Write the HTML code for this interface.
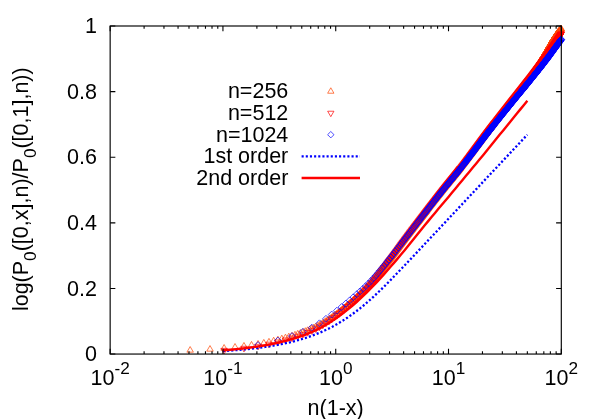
<!DOCTYPE html>
<html><head><meta charset="utf-8"><title>plot</title>
<style>html,body{margin:0;padding:0;background:#fff;}svg{display:block;will-change:transform;}text{font-family:"Liberation Sans",sans-serif;fill:#000;}</style></head><body>
<svg width="598" height="419" viewBox="0 0 598 419">
<rect width="598" height="419" fill="#fff"/>
<path d="M190.15,346.55 l3.25,5.62 h-6.50 z M210.01,345.55 l3.25,5.62 h-6.50 z M224.10,344.53 l3.25,5.62 h-6.50 z M235.03,343.52 l3.25,5.62 h-6.50 z M243.96,342.48 l3.25,5.62 h-6.50 z M251.51,341.46 l3.25,5.62 h-6.50 z M258.05,340.48 l3.25,5.62 h-6.50 z M263.82,339.45 l3.25,5.62 h-6.50 z M268.98,338.37 l3.25,5.62 h-6.50 z M273.65,337.28 l3.25,5.62 h-6.50 z M277.91,336.20 l3.25,5.62 h-6.50 z M281.83,335.17 l3.25,5.62 h-6.50 z M285.46,334.17 l3.25,5.62 h-6.50 z M288.84,333.20 l3.25,5.62 h-6.50 z M292.00,332.25 l3.25,5.62 h-6.50 z M294.97,331.32 l3.25,5.62 h-6.50 z M297.77,330.40 l3.25,5.62 h-6.50 z M300.42,329.49 l3.25,5.62 h-6.50 z M302.93,328.59 l3.25,5.62 h-6.50 z M305.32,327.69 l3.25,5.62 h-6.50 z M307.60,326.80 l3.25,5.62 h-6.50 z M309.78,325.92 l3.25,5.62 h-6.50 z M311.86,325.04 l3.25,5.62 h-6.50 z M313.86,324.17 l3.25,5.62 h-6.50 z M315.79,323.27 l3.25,5.62 h-6.50 z M317.63,322.36 l3.25,5.62 h-6.50 z M319.42,321.43 l3.25,5.62 h-6.50 z M321.13,320.50 l3.25,5.62 h-6.50 z M322.80,319.55 l3.25,5.62 h-6.50 z M324.40,318.60 l3.25,5.62 h-6.50 z M325.96,317.65 l3.25,5.62 h-6.50 z M327.46,316.70 l3.25,5.62 h-6.50 z M328.93,315.75 l3.25,5.62 h-6.50 z M330.35,314.80 l3.25,5.62 h-6.50 z M331.73,313.86 l3.25,5.62 h-6.50 z M333.07,312.92 l3.25,5.62 h-6.50 z M334.37,311.98 l3.25,5.62 h-6.50 z M335.65,311.05 l3.25,5.62 h-6.50 z M336.89,310.14 l3.25,5.62 h-6.50 z M338.10,309.24 l3.25,5.62 h-6.50 z M339.28,308.34 l3.25,5.62 h-6.50 z M340.43,307.46 l3.25,5.62 h-6.50 z M341.56,306.58 l3.25,5.62 h-6.50 z M342.66,305.71 l3.25,5.62 h-6.50 z M343.73,304.84 l3.25,5.62 h-6.50 z M344.79,303.99 l3.25,5.62 h-6.50 z M345.82,303.14 l3.25,5.62 h-6.50 z M346.83,302.30 l3.25,5.62 h-6.50 z M347.82,301.47 l3.25,5.62 h-6.50 z M348.79,300.65 l3.25,5.62 h-6.50 z M349.74,299.85 l3.25,5.62 h-6.50 z M350.67,299.05 l3.25,5.62 h-6.50 z M351.59,298.26 l3.25,5.62 h-6.50 z M352.49,297.48 l3.25,5.62 h-6.50 z M353.37,296.71 l3.25,5.62 h-6.50 z M354.24,295.95 l3.25,5.62 h-6.50 z M355.09,295.20 l3.25,5.62 h-6.50 z M355.92,294.45 l3.25,5.62 h-6.50 z M356.75,293.71 l3.25,5.62 h-6.50 z M357.56,292.97 l3.25,5.62 h-6.50 z M358.35,292.23 l3.25,5.62 h-6.50 z M359.14,291.49 l3.25,5.62 h-6.50 z M359.91,290.75 l3.25,5.62 h-6.50 z M360.67,290.01 l3.25,5.62 h-6.50 z M361.42,289.28 l3.25,5.62 h-6.50 z M362.15,288.54 l3.25,5.62 h-6.50 z M362.88,287.81 l3.25,5.62 h-6.50 z M363.59,287.08 l3.25,5.62 h-6.50 z M364.30,286.36 l3.25,5.62 h-6.50 z M364.99,285.63 l3.25,5.62 h-6.50 z M365.68,284.92 l3.25,5.62 h-6.50 z M366.35,284.20 l3.25,5.62 h-6.50 z M367.02,283.49 l3.25,5.62 h-6.50 z M367.68,282.78 l3.25,5.62 h-6.50 z M368.33,282.08 l3.25,5.62 h-6.50 z M368.97,281.38 l3.25,5.62 h-6.50 z M369.60,280.69 l3.25,5.62 h-6.50 z M370.22,280.00 l3.25,5.62 h-6.50 z M370.84,279.30 l3.25,5.62 h-6.50 z M371.45,278.61 l3.25,5.62 h-6.50 z M372.05,277.92 l3.25,5.62 h-6.50 z M372.64,277.22 l3.25,5.62 h-6.50 z M373.23,276.53 l3.25,5.62 h-6.50 z M373.81,275.84 l3.25,5.62 h-6.50 z M374.38,275.15 l3.25,5.62 h-6.50 z M374.95,274.47 l3.25,5.62 h-6.50 z M375.51,273.78 l3.25,5.62 h-6.50 z M376.06,273.10 l3.25,5.62 h-6.50 z M376.61,272.43 l3.25,5.62 h-6.50 z M377.15,271.75 l3.25,5.62 h-6.50 z M377.69,271.08 l3.25,5.62 h-6.50 z M378.21,270.41 l3.25,5.62 h-6.50 z M378.74,269.75 l3.25,5.62 h-6.50 z M379.26,269.09 l3.25,5.62 h-6.50 z M379.77,268.44 l3.25,5.62 h-6.50 z M380.28,267.79 l3.25,5.62 h-6.50 z M380.78,267.15 l3.25,5.62 h-6.50 z M381.28,266.51 l3.25,5.62 h-6.50 z M381.77,265.87 l3.25,5.62 h-6.50 z M382.26,265.24 l3.25,5.62 h-6.50 z M382.74,264.62 l3.25,5.62 h-6.50 z M383.22,264.00 l3.25,5.62 h-6.50 z M383.69,263.39 l3.25,5.62 h-6.50 z M384.16,262.78 l3.25,5.62 h-6.50 z M384.62,262.18 l3.25,5.62 h-6.50 z M385.08,261.59 l3.25,5.62 h-6.50 z M385.54,261.00 l3.25,5.62 h-6.50 z M385.99,260.41 l3.25,5.62 h-6.50 z M386.44,259.84 l3.25,5.62 h-6.50 z M386.88,259.26 l3.25,5.62 h-6.50 z M387.32,258.70 l3.25,5.62 h-6.50 z M387.76,258.14 l3.25,5.62 h-6.50 z M388.19,257.58 l3.25,5.62 h-6.50 z M388.62,257.03 l3.25,5.62 h-6.50 z M389.04,256.48 l3.25,5.62 h-6.50 z M389.46,255.94 l3.25,5.62 h-6.50 z M389.88,255.40 l3.25,5.62 h-6.50 z M390.29,254.86 l3.25,5.62 h-6.50 z M390.70,254.32 l3.25,5.62 h-6.50 z M391.11,253.79 l3.25,5.62 h-6.50 z M391.51,253.25 l3.25,5.62 h-6.50 z M391.91,252.72 l3.25,5.62 h-6.50 z M392.31,252.20 l3.25,5.62 h-6.50 z M392.70,251.67 l3.25,5.62 h-6.50 z M393.09,251.15 l3.25,5.62 h-6.50 z M393.48,250.63 l3.25,5.62 h-6.50 z M393.86,250.12 l3.25,5.62 h-6.50 z M394.24,249.60 l3.25,5.62 h-6.50 z M394.62,249.09 l3.25,5.62 h-6.50 z M395.00,248.59 l3.25,5.62 h-6.50 z M395.37,248.08 l3.25,5.62 h-6.50 z M395.74,247.58 l3.25,5.62 h-6.50 z M396.11,247.09 l3.25,5.62 h-6.50 z M396.47,246.59 l3.25,5.62 h-6.50 z M396.83,246.10 l3.25,5.62 h-6.50 z M397.19,245.62 l3.25,5.62 h-6.50 z M397.55,245.13 l3.25,5.62 h-6.50 z M397.90,244.65 l3.25,5.62 h-6.50 z M398.25,244.17 l3.25,5.62 h-6.50 z M398.60,243.70 l3.25,5.62 h-6.50 z M398.95,243.23 l3.25,5.62 h-6.50 z M399.29,242.76 l3.25,5.62 h-6.50 z M399.63,242.30 l3.25,5.62 h-6.50 z M399.97,241.84 l3.25,5.62 h-6.50 z M400.31,241.39 l3.25,5.62 h-6.50 z M400.64,240.93 l3.25,5.62 h-6.50 z M400.97,240.48 l3.25,5.62 h-6.50 z M401.30,240.04 l3.25,5.62 h-6.50 z M401.63,239.60 l3.25,5.62 h-6.50 z M401.96,239.16 l3.25,5.62 h-6.50 z M402.28,238.72 l3.25,5.62 h-6.50 z M402.60,238.29 l3.25,5.62 h-6.50 z M402.92,237.86 l3.25,5.62 h-6.50 z M403.24,237.44 l3.25,5.62 h-6.50 z M403.55,237.02 l3.25,5.62 h-6.50 z M403.86,236.60 l3.25,5.62 h-6.50 z M404.18,236.19 l3.25,5.62 h-6.50 z M404.48,235.77 l3.25,5.62 h-6.50 z M404.79,235.37 l3.25,5.62 h-6.50 z M405.10,234.96 l3.25,5.62 h-6.50 z M405.40,234.56 l3.25,5.62 h-6.50 z M405.70,234.15 l3.25,5.62 h-6.50 z M406.00,233.75 l3.25,5.62 h-6.50 z M406.30,233.36 l3.25,5.62 h-6.50 z M406.59,232.97 l3.25,5.62 h-6.50 z M406.89,232.57 l3.25,5.62 h-6.50 z M407.18,232.19 l3.25,5.62 h-6.50 z M407.47,231.80 l3.25,5.62 h-6.50 z M407.76,231.42 l3.25,5.62 h-6.50 z M408.05,231.03 l3.25,5.62 h-6.50 z M408.33,230.66 l3.25,5.62 h-6.50 z M408.62,230.28 l3.25,5.62 h-6.50 z M408.90,229.90 l3.25,5.62 h-6.50 z M409.18,229.53 l3.25,5.62 h-6.50 z M409.46,229.16 l3.25,5.62 h-6.50 z M409.74,228.80 l3.25,5.62 h-6.50 z M410.01,228.43 l3.25,5.62 h-6.50 z M410.29,228.07 l3.25,5.62 h-6.50 z M410.56,227.71 l3.25,5.62 h-6.50 z M410.83,227.35 l3.25,5.62 h-6.50 z M411.10,227.00 l3.25,5.62 h-6.50 z M411.37,226.64 l3.25,5.62 h-6.50 z M411.64,226.29 l3.25,5.62 h-6.50 z M411.90,225.94 l3.25,5.62 h-6.50 z M412.17,225.60 l3.25,5.62 h-6.50 z M412.43,225.25 l3.25,5.62 h-6.50 z M412.69,224.91 l3.25,5.62 h-6.50 z M412.95,224.57 l3.25,5.62 h-6.50 z M413.21,224.23 l3.25,5.62 h-6.50 z M413.47,223.89 l3.25,5.62 h-6.50 z M413.72,223.56 l3.25,5.62 h-6.50 z M413.98,223.23 l3.25,5.62 h-6.50 z M414.23,222.90 l3.25,5.62 h-6.50 z M414.48,222.57 l3.25,5.62 h-6.50 z M414.73,222.24 l3.25,5.62 h-6.50 z M414.98,221.92 l3.25,5.62 h-6.50 z M415.23,221.60 l3.25,5.62 h-6.50 z M415.48,221.27 l3.25,5.62 h-6.50 z M415.72,220.96 l3.25,5.62 h-6.50 z M415.97,220.64 l3.25,5.62 h-6.50 z M416.21,220.32 l3.25,5.62 h-6.50 z M416.45,220.01 l3.25,5.62 h-6.50 z M416.69,219.69 l3.25,5.62 h-6.50 z M416.93,219.38 l3.25,5.62 h-6.50 z M417.17,219.07 l3.25,5.62 h-6.50 z M417.41,218.76 l3.25,5.62 h-6.50 z M417.64,218.46 l3.25,5.62 h-6.50 z M417.88,218.15 l3.25,5.62 h-6.50 z M418.11,217.85 l3.25,5.62 h-6.50 z M418.34,217.55 l3.25,5.62 h-6.50 z M418.58,217.24 l3.25,5.62 h-6.50 z M418.81,216.95 l3.25,5.62 h-6.50 z M419.04,216.65 l3.25,5.62 h-6.50 z M419.26,216.35 l3.25,5.62 h-6.50 z M419.49,216.06 l3.25,5.62 h-6.50 z M419.72,215.76 l3.25,5.62 h-6.50 z M419.94,215.47 l3.25,5.62 h-6.50 z M420.17,215.18 l3.25,5.62 h-6.50 z M420.39,214.89 l3.25,5.62 h-6.50 z M420.61,214.60 l3.25,5.62 h-6.50 z M420.83,214.32 l3.25,5.62 h-6.50 z M421.05,214.03 l3.25,5.62 h-6.50 z M421.27,213.75 l3.25,5.62 h-6.50 z M421.49,213.46 l3.25,5.62 h-6.50 z M421.71,213.18 l3.25,5.62 h-6.50 z M421.92,212.90 l3.25,5.62 h-6.50 z M422.14,212.62 l3.25,5.62 h-6.50 z M422.35,212.35 l3.25,5.62 h-6.50 z M422.57,212.07 l3.25,5.62 h-6.50 z M422.78,211.80 l3.25,5.62 h-6.50 z M422.99,211.52 l3.25,5.62 h-6.50 z M423.20,211.25 l3.25,5.62 h-6.50 z M423.41,210.98 l3.25,5.62 h-6.50 z M423.62,210.71 l3.25,5.62 h-6.50 z M423.83,210.44 l3.25,5.62 h-6.50 z M424.04,210.17 l3.25,5.62 h-6.50 z M424.24,209.91 l3.25,5.62 h-6.50 z M424.45,209.64 l3.25,5.62 h-6.50 z M424.65,209.38 l3.25,5.62 h-6.50 z M424.86,209.11 l3.25,5.62 h-6.50 z M425.06,208.85 l3.25,5.62 h-6.50 z M425.26,208.59 l3.25,5.62 h-6.50 z M425.46,208.33 l3.25,5.62 h-6.50 z M425.66,208.07 l3.25,5.62 h-6.50 z M425.86,207.81 l3.25,5.62 h-6.50 z M426.06,207.56 l3.25,5.62 h-6.50 z M426.26,207.30 l3.25,5.62 h-6.50 z M426.46,207.05 l3.25,5.62 h-6.50 z M426.65,206.79 l3.25,5.62 h-6.50 z M427.04,206.29 l3.25,5.62 h-6.50 z M427.43,205.79 l3.25,5.62 h-6.50 z M427.81,205.29 l3.25,5.62 h-6.50 z M428.19,204.80 l3.25,5.62 h-6.50 z M428.57,204.31 l3.25,5.62 h-6.50 z M428.95,203.82 l3.25,5.62 h-6.50 z M429.32,203.34 l3.25,5.62 h-6.50 z M429.69,202.86 l3.25,5.62 h-6.50 z M430.06,202.39 l3.25,5.62 h-6.50 z M430.42,201.92 l3.25,5.62 h-6.50 z M430.78,201.45 l3.25,5.62 h-6.50 z M431.14,200.99 l3.25,5.62 h-6.50 z M431.50,200.53 l3.25,5.62 h-6.50 z M431.85,200.07 l3.25,5.62 h-6.50 z M432.20,199.62 l3.25,5.62 h-6.50 z M432.55,199.17 l3.25,5.62 h-6.50 z M432.90,198.72 l3.25,5.62 h-6.50 z M433.24,198.28 l3.25,5.62 h-6.50 z M433.58,197.84 l3.25,5.62 h-6.50 z M433.92,197.40 l3.25,5.62 h-6.50 z M434.26,196.97 l3.25,5.62 h-6.50 z M434.59,196.54 l3.25,5.62 h-6.50 z M434.93,196.11 l3.25,5.62 h-6.50 z M435.26,195.69 l3.25,5.62 h-6.50 z M435.58,195.27 l3.25,5.62 h-6.50 z M435.91,194.85 l3.25,5.62 h-6.50 z M436.23,194.43 l3.25,5.62 h-6.50 z M436.55,194.02 l3.25,5.62 h-6.50 z M436.87,193.61 l3.25,5.62 h-6.50 z M437.19,193.21 l3.25,5.62 h-6.50 z M437.50,192.80 l3.25,5.62 h-6.50 z M437.82,192.40 l3.25,5.62 h-6.50 z M438.13,192.01 l3.25,5.62 h-6.50 z M438.44,191.61 l3.25,5.62 h-6.50 z M438.74,191.22 l3.25,5.62 h-6.50 z M439.05,190.83 l3.25,5.62 h-6.50 z M439.35,190.44 l3.25,5.62 h-6.50 z M439.65,190.06 l3.25,5.62 h-6.50 z M439.95,189.68 l3.25,5.62 h-6.50 z M440.25,189.30 l3.25,5.62 h-6.50 z M440.55,188.93 l3.25,5.62 h-6.50 z M440.84,188.55 l3.25,5.62 h-6.50 z M441.13,188.18 l3.25,5.62 h-6.50 z M441.42,187.81 l3.25,5.62 h-6.50 z M441.71,187.45 l3.25,5.62 h-6.50 z M442.00,187.08 l3.25,5.62 h-6.50 z M442.29,186.72 l3.25,5.62 h-6.50 z M442.57,186.37 l3.25,5.62 h-6.50 z M442.85,186.01 l3.25,5.62 h-6.50 z M443.13,185.66 l3.25,5.62 h-6.50 z M443.41,185.31 l3.25,5.62 h-6.50 z M443.69,184.96 l3.25,5.62 h-6.50 z M443.97,184.61 l3.25,5.62 h-6.50 z M444.24,184.27 l3.25,5.62 h-6.50 z M444.51,183.93 l3.25,5.62 h-6.50 z M444.78,183.59 l3.25,5.62 h-6.50 z M445.05,183.26 l3.25,5.62 h-6.50 z M445.32,182.93 l3.25,5.62 h-6.50 z M445.59,182.59 l3.25,5.62 h-6.50 z M445.86,182.27 l3.25,5.62 h-6.50 z M446.12,181.94 l3.25,5.62 h-6.50 z M446.38,181.62 l3.25,5.62 h-6.50 z M446.64,181.29 l3.25,5.62 h-6.50 z M446.90,180.97 l3.25,5.62 h-6.50 z M447.16,180.65 l3.25,5.62 h-6.50 z M447.42,180.34 l3.25,5.62 h-6.50 z M447.67,180.02 l3.25,5.62 h-6.50 z M447.93,179.71 l3.25,5.62 h-6.50 z M448.18,179.40 l3.25,5.62 h-6.50 z M448.43,179.09 l3.25,5.62 h-6.50 z M448.68,178.78 l3.25,5.62 h-6.50 z M448.93,178.48 l3.25,5.62 h-6.50 z M449.18,178.17 l3.25,5.62 h-6.50 z M449.43,177.87 l3.25,5.62 h-6.50 z M449.67,177.57 l3.25,5.62 h-6.50 z M449.92,177.27 l3.25,5.62 h-6.50 z M450.16,176.97 l3.25,5.62 h-6.50 z M450.40,176.68 l3.25,5.62 h-6.50 z M450.64,176.38 l3.25,5.62 h-6.50 z M450.88,176.09 l3.25,5.62 h-6.50 z M451.12,175.80 l3.25,5.62 h-6.50 z M451.36,175.51 l3.25,5.62 h-6.50 z M451.60,175.22 l3.25,5.62 h-6.50 z M451.83,174.93 l3.25,5.62 h-6.50 z M452.06,174.64 l3.25,5.62 h-6.50 z M452.30,174.36 l3.25,5.62 h-6.50 z M452.53,174.07 l3.25,5.62 h-6.50 z M452.76,173.79 l3.25,5.62 h-6.50 z M452.99,173.51 l3.25,5.62 h-6.50 z M453.22,173.23 l3.25,5.62 h-6.50 z M453.44,172.95 l3.25,5.62 h-6.50 z M453.67,172.67 l3.25,5.62 h-6.50 z M453.90,172.39 l3.25,5.62 h-6.50 z M454.12,172.12 l3.25,5.62 h-6.50 z M454.34,171.84 l3.25,5.62 h-6.50 z M454.56,171.57 l3.25,5.62 h-6.50 z M454.79,171.29 l3.25,5.62 h-6.50 z M455.01,171.02 l3.25,5.62 h-6.50 z M455.23,170.75 l3.25,5.62 h-6.50 z M455.44,170.48 l3.25,5.62 h-6.50 z M455.66,170.21 l3.25,5.62 h-6.50 z M455.88,169.94 l3.25,5.62 h-6.50 z M456.09,169.68 l3.25,5.62 h-6.50 z M456.31,169.41 l3.25,5.62 h-6.50 z M456.52,169.14 l3.25,5.62 h-6.50 z M456.73,168.88 l3.25,5.62 h-6.50 z M456.94,168.61 l3.25,5.62 h-6.50 z M457.15,168.35 l3.25,5.62 h-6.50 z M457.36,168.09 l3.25,5.62 h-6.50 z M457.57,167.83 l3.25,5.62 h-6.50 z M457.78,167.57 l3.25,5.62 h-6.50 z M457.99,167.31 l3.25,5.62 h-6.50 z M458.19,167.05 l3.25,5.62 h-6.50 z M458.40,166.79 l3.25,5.62 h-6.50 z M458.60,166.53 l3.25,5.62 h-6.50 z M458.81,166.27 l3.25,5.62 h-6.50 z M459.01,166.01 l3.25,5.62 h-6.50 z M459.21,165.76 l3.25,5.62 h-6.50 z M459.41,165.50 l3.25,5.62 h-6.50 z M459.61,165.25 l3.25,5.62 h-6.50 z M459.81,164.99 l3.25,5.62 h-6.50 z M460.01,164.74 l3.25,5.62 h-6.50 z M460.21,164.49 l3.25,5.62 h-6.50 z M460.41,164.24 l3.25,5.62 h-6.50 z M460.70,163.86 l3.25,5.62 h-6.50 z M460.99,163.48 l3.25,5.62 h-6.50 z M461.29,163.11 l3.25,5.62 h-6.50 z M461.57,162.73 l3.25,5.62 h-6.50 z M461.86,162.36 l3.25,5.62 h-6.50 z M462.15,161.99 l3.25,5.62 h-6.50 z M462.43,161.62 l3.25,5.62 h-6.50 z M462.71,161.26 l3.25,5.62 h-6.50 z M462.99,160.89 l3.25,5.62 h-6.50 z M463.27,160.53 l3.25,5.62 h-6.50 z M463.55,160.16 l3.25,5.62 h-6.50 z M463.83,159.80 l3.25,5.62 h-6.50 z M464.10,159.44 l3.25,5.62 h-6.50 z M464.37,159.09 l3.25,5.62 h-6.50 z M464.65,158.73 l3.25,5.62 h-6.50 z M464.92,158.37 l3.25,5.62 h-6.50 z M465.18,158.02 l3.25,5.62 h-6.50 z M465.45,157.67 l3.25,5.62 h-6.50 z M465.72,157.32 l3.25,5.62 h-6.50 z M465.98,156.97 l3.25,5.62 h-6.50 z M466.24,156.62 l3.25,5.62 h-6.50 z M466.50,156.27 l3.25,5.62 h-6.50 z M466.76,155.93 l3.25,5.62 h-6.50 z M467.02,155.58 l3.25,5.62 h-6.50 z M467.28,155.24 l3.25,5.62 h-6.50 z M467.54,154.90 l3.25,5.62 h-6.50 z M467.79,154.56 l3.25,5.62 h-6.50 z M468.04,154.22 l3.25,5.62 h-6.50 z M468.29,153.89 l3.25,5.62 h-6.50 z M468.55,153.55 l3.25,5.62 h-6.50 z M468.79,153.22 l3.25,5.62 h-6.50 z M469.04,152.89 l3.25,5.62 h-6.50 z M469.29,152.56 l3.25,5.62 h-6.50 z M469.54,152.23 l3.25,5.62 h-6.50 z M469.78,151.90 l3.25,5.62 h-6.50 z M470.02,151.57 l3.25,5.62 h-6.50 z M470.26,151.25 l3.25,5.62 h-6.50 z M470.51,150.93 l3.25,5.62 h-6.50 z M470.74,150.60 l3.25,5.62 h-6.50 z M470.98,150.28 l3.25,5.62 h-6.50 z M471.22,149.96 l3.25,5.62 h-6.50 z M471.46,149.64 l3.25,5.62 h-6.50 z M471.69,149.33 l3.25,5.62 h-6.50 z M471.92,149.01 l3.25,5.62 h-6.50 z M472.16,148.70 l3.25,5.62 h-6.50 z M472.39,148.39 l3.25,5.62 h-6.50 z M472.62,148.07 l3.25,5.62 h-6.50 z M472.85,147.76 l3.25,5.62 h-6.50 z M473.08,147.46 l3.25,5.62 h-6.50 z M473.30,147.15 l3.25,5.62 h-6.50 z M473.53,146.84 l3.25,5.62 h-6.50 z M473.76,146.54 l3.25,5.62 h-6.50 z M473.98,146.23 l3.25,5.62 h-6.50 z M474.20,145.93 l3.25,5.62 h-6.50 z M474.43,145.63 l3.25,5.62 h-6.50 z M474.65,145.33 l3.25,5.62 h-6.50 z M474.87,145.03 l3.25,5.62 h-6.50 z M475.09,144.74 l3.25,5.62 h-6.50 z M475.30,144.44 l3.25,5.62 h-6.50 z M475.52,144.15 l3.25,5.62 h-6.50 z M475.74,143.85 l3.25,5.62 h-6.50 z M475.95,143.56 l3.25,5.62 h-6.50 z M476.17,143.27 l3.25,5.62 h-6.50 z M476.38,142.98 l3.25,5.62 h-6.50 z M476.59,142.69 l3.25,5.62 h-6.50 z M476.81,142.41 l3.25,5.62 h-6.50 z M477.02,142.12 l3.25,5.62 h-6.50 z M477.23,141.84 l3.25,5.62 h-6.50 z M477.43,141.55 l3.25,5.62 h-6.50 z M477.64,141.27 l3.25,5.62 h-6.50 z M477.85,140.99 l3.25,5.62 h-6.50 z M478.06,140.71 l3.25,5.62 h-6.50 z M478.26,140.43 l3.25,5.62 h-6.50 z M478.47,140.16 l3.25,5.62 h-6.50 z M478.67,139.88 l3.25,5.62 h-6.50 z M478.87,139.61 l3.25,5.62 h-6.50 z M479.07,139.33 l3.25,5.62 h-6.50 z M479.28,139.06 l3.25,5.62 h-6.50 z M479.48,138.79 l3.25,5.62 h-6.50 z M479.68,138.52 l3.25,5.62 h-6.50 z M479.87,138.25 l3.25,5.62 h-6.50 z M480.07,137.98 l3.25,5.62 h-6.50 z M480.27,137.72 l3.25,5.62 h-6.50 z M480.47,137.45 l3.25,5.62 h-6.50 z M480.66,137.19 l3.25,5.62 h-6.50 z M480.86,136.92 l3.25,5.62 h-6.50 z M481.05,136.66 l3.25,5.62 h-6.50 z M481.24,136.40 l3.25,5.62 h-6.50 z M481.44,136.14 l3.25,5.62 h-6.50 z M481.63,135.88 l3.25,5.62 h-6.50 z M481.82,135.63 l3.25,5.62 h-6.50 z M482.07,135.28 l3.25,5.62 h-6.50 z M482.32,134.95 l3.25,5.62 h-6.50 z M482.57,134.61 l3.25,5.62 h-6.50 z M482.82,134.27 l3.25,5.62 h-6.50 z M483.07,133.94 l3.25,5.62 h-6.50 z M483.32,133.61 l3.25,5.62 h-6.50 z M483.57,133.28 l3.25,5.62 h-6.50 z M483.81,132.95 l3.25,5.62 h-6.50 z M484.05,132.62 l3.25,5.62 h-6.50 z M484.30,132.30 l3.25,5.62 h-6.50 z M484.54,131.98 l3.25,5.62 h-6.50 z M484.78,131.65 l3.25,5.62 h-6.50 z M485.02,131.34 l3.25,5.62 h-6.50 z M485.25,131.02 l3.25,5.62 h-6.50 z M485.49,130.70 l3.25,5.62 h-6.50 z M485.72,130.39 l3.25,5.62 h-6.50 z M485.96,130.08 l3.25,5.62 h-6.50 z M486.19,129.77 l3.25,5.62 h-6.50 z M486.42,129.46 l3.25,5.62 h-6.50 z M486.65,129.15 l3.25,5.62 h-6.50 z M486.88,128.85 l3.25,5.62 h-6.50 z M487.11,128.55 l3.25,5.62 h-6.50 z M487.34,128.25 l3.25,5.62 h-6.50 z M487.57,127.95 l3.25,5.62 h-6.50 z M487.79,127.65 l3.25,5.62 h-6.50 z M488.02,127.35 l3.25,5.62 h-6.50 z M488.24,127.06 l3.25,5.62 h-6.50 z M488.46,126.77 l3.25,5.62 h-6.50 z M488.68,126.47 l3.25,5.62 h-6.50 z M488.90,126.18 l3.25,5.62 h-6.50 z M489.12,125.90 l3.25,5.62 h-6.50 z M489.34,125.61 l3.25,5.62 h-6.50 z M489.56,125.33 l3.25,5.62 h-6.50 z M489.78,125.04 l3.25,5.62 h-6.50 z M489.99,124.76 l3.25,5.62 h-6.50 z M490.21,124.48 l3.25,5.62 h-6.50 z M490.42,124.20 l3.25,5.62 h-6.50 z M490.63,123.92 l3.25,5.62 h-6.50 z M490.84,123.64 l3.25,5.62 h-6.50 z M491.05,123.37 l3.25,5.62 h-6.50 z M491.26,123.09 l3.25,5.62 h-6.50 z M491.47,122.82 l3.25,5.62 h-6.50 z M491.68,122.55 l3.25,5.62 h-6.50 z M491.89,122.28 l3.25,5.62 h-6.50 z M492.10,122.01 l3.25,5.62 h-6.50 z M492.30,121.74 l3.25,5.62 h-6.50 z M492.51,121.48 l3.25,5.62 h-6.50 z M492.71,121.21 l3.25,5.62 h-6.50 z M492.91,120.95 l3.25,5.62 h-6.50 z M493.12,120.68 l3.25,5.62 h-6.50 z M493.32,120.42 l3.25,5.62 h-6.50 z M493.52,120.16 l3.25,5.62 h-6.50 z M493.72,119.90 l3.25,5.62 h-6.50 z M493.92,119.64 l3.25,5.62 h-6.50 z M494.11,119.39 l3.25,5.62 h-6.50 z M494.31,119.13 l3.25,5.62 h-6.50 z M494.51,118.88 l3.25,5.62 h-6.50 z M494.70,118.62 l3.25,5.62 h-6.50 z M494.95,118.31 l3.25,5.62 h-6.50 z M495.19,117.99 l3.25,5.62 h-6.50 z M495.43,117.68 l3.25,5.62 h-6.50 z M495.67,117.37 l3.25,5.62 h-6.50 z M495.91,117.06 l3.25,5.62 h-6.50 z M496.15,116.75 l3.25,5.62 h-6.50 z M496.38,116.44 l3.25,5.62 h-6.50 z M496.62,116.14 l3.25,5.62 h-6.50 z M496.85,115.84 l3.25,5.62 h-6.50 z M497.09,115.54 l3.25,5.62 h-6.50 z M497.32,115.24 l3.25,5.62 h-6.50 z M497.55,114.94 l3.25,5.62 h-6.50 z M497.78,114.64 l3.25,5.62 h-6.50 z M498.01,114.35 l3.25,5.62 h-6.50 z M498.24,114.05 l3.25,5.62 h-6.50 z M498.46,113.76 l3.25,5.62 h-6.50 z M498.69,113.47 l3.25,5.62 h-6.50 z M498.91,113.18 l3.25,5.62 h-6.50 z M499.14,112.89 l3.25,5.62 h-6.50 z M499.36,112.60 l3.25,5.62 h-6.50 z M499.58,112.32 l3.25,5.62 h-6.50 z M499.80,112.03 l3.25,5.62 h-6.50 z M500.02,111.75 l3.25,5.62 h-6.50 z M500.24,111.47 l3.25,5.62 h-6.50 z M500.46,111.19 l3.25,5.62 h-6.50 z M500.67,110.91 l3.25,5.62 h-6.50 z M500.89,110.63 l3.25,5.62 h-6.50 z M501.10,110.36 l3.25,5.62 h-6.50 z M501.32,110.08 l3.25,5.62 h-6.50 z M501.53,109.81 l3.25,5.62 h-6.50 z M501.74,109.53 l3.25,5.62 h-6.50 z M501.95,109.26 l3.25,5.62 h-6.50 z M502.16,108.99 l3.25,5.62 h-6.50 z M502.37,108.72 l3.25,5.62 h-6.50 z M502.58,108.45 l3.25,5.62 h-6.50 z M502.79,108.19 l3.25,5.62 h-6.50 z M503.00,107.92 l3.25,5.62 h-6.50 z M503.20,107.66 l3.25,5.62 h-6.50 z M503.41,107.39 l3.25,5.62 h-6.50 z M503.61,107.13 l3.25,5.62 h-6.50 z M503.81,106.87 l3.25,5.62 h-6.50 z M504.02,106.61 l3.25,5.62 h-6.50 z M504.22,106.35 l3.25,5.62 h-6.50 z M504.42,106.09 l3.25,5.62 h-6.50 z M504.62,105.84 l3.25,5.62 h-6.50 z M504.82,105.58 l3.25,5.62 h-6.50 z M505.01,105.32 l3.25,5.62 h-6.50 z M505.21,105.07 l3.25,5.62 h-6.50 z M505.41,104.82 l3.25,5.62 h-6.50 z M505.64,104.52 l3.25,5.62 h-6.50 z M505.88,104.21 l3.25,5.62 h-6.50 z M506.11,103.91 l3.25,5.62 h-6.50 z M506.34,103.62 l3.25,5.62 h-6.50 z M506.57,103.32 l3.25,5.62 h-6.50 z M506.80,103.02 l3.25,5.62 h-6.50 z M507.03,102.73 l3.25,5.62 h-6.50 z M507.26,102.44 l3.25,5.62 h-6.50 z M507.48,102.15 l3.25,5.62 h-6.50 z M507.71,101.86 l3.25,5.62 h-6.50 z M507.93,101.57 l3.25,5.62 h-6.50 z M508.16,101.28 l3.25,5.62 h-6.50 z M508.38,100.99 l3.25,5.62 h-6.50 z M508.60,100.71 l3.25,5.62 h-6.50 z M508.82,100.42 l3.25,5.62 h-6.50 z M509.04,100.14 l3.25,5.62 h-6.50 z M509.26,99.86 l3.25,5.62 h-6.50 z M509.47,99.58 l3.25,5.62 h-6.50 z M509.69,99.30 l3.25,5.62 h-6.50 z M509.91,99.02 l3.25,5.62 h-6.50 z M510.12,98.74 l3.25,5.62 h-6.50 z M510.33,98.47 l3.25,5.62 h-6.50 z M510.55,98.19 l3.25,5.62 h-6.50 z M510.76,97.92 l3.25,5.62 h-6.50 z M510.97,97.65 l3.25,5.62 h-6.50 z M511.18,97.38 l3.25,5.62 h-6.50 z M511.39,97.11 l3.25,5.62 h-6.50 z M511.59,96.84 l3.25,5.62 h-6.50 z M511.80,96.57 l3.25,5.62 h-6.50 z M512.01,96.30 l3.25,5.62 h-6.50 z M512.21,96.03 l3.25,5.62 h-6.50 z M512.42,95.77 l3.25,5.62 h-6.50 z M512.62,95.50 l3.25,5.62 h-6.50 z M512.82,95.24 l3.25,5.62 h-6.50 z M513.03,94.98 l3.25,5.62 h-6.50 z M513.23,94.72 l3.25,5.62 h-6.50 z M513.43,94.46 l3.25,5.62 h-6.50 z M513.63,94.20 l3.25,5.62 h-6.50 z M513.83,93.94 l3.25,5.62 h-6.50 z M514.02,93.68 l3.25,5.62 h-6.50 z M514.22,93.43 l3.25,5.62 h-6.50 z M514.42,93.17 l3.25,5.62 h-6.50 z M514.61,92.92 l3.25,5.62 h-6.50 z M514.84,92.62 l3.25,5.62 h-6.50 z M515.07,92.33 l3.25,5.62 h-6.50 z M515.29,92.03 l3.25,5.62 h-6.50 z M515.52,91.74 l3.25,5.62 h-6.50 z M515.74,91.45 l3.25,5.62 h-6.50 z M515.96,91.16 l3.25,5.62 h-6.50 z M516.18,90.88 l3.25,5.62 h-6.50 z M516.40,90.59 l3.25,5.62 h-6.50 z M516.62,90.31 l3.25,5.62 h-6.50 z M516.84,90.02 l3.25,5.62 h-6.50 z M517.06,89.74 l3.25,5.62 h-6.50 z M517.27,89.46 l3.25,5.62 h-6.50 z M517.49,89.18 l3.25,5.62 h-6.50 z M517.70,88.91 l3.25,5.62 h-6.50 z M517.91,88.63 l3.25,5.62 h-6.50 z M518.13,88.35 l3.25,5.62 h-6.50 z M518.34,88.08 l3.25,5.62 h-6.50 z M518.55,87.81 l3.25,5.62 h-6.50 z M518.76,87.53 l3.25,5.62 h-6.50 z M518.97,87.26 l3.25,5.62 h-6.50 z M519.18,86.99 l3.25,5.62 h-6.50 z M519.38,86.72 l3.25,5.62 h-6.50 z M519.59,86.46 l3.25,5.62 h-6.50 z M519.79,86.19 l3.25,5.62 h-6.50 z M520.00,85.93 l3.25,5.62 h-6.50 z M520.20,85.66 l3.25,5.62 h-6.50 z M520.40,85.40 l3.25,5.62 h-6.50 z M520.61,85.14 l3.25,5.62 h-6.50 z M520.81,84.87 l3.25,5.62 h-6.50 z M521.01,84.61 l3.25,5.62 h-6.50 z M521.21,84.36 l3.25,5.62 h-6.50 z M521.41,84.10 l3.25,5.62 h-6.50 z M521.60,83.84 l3.25,5.62 h-6.50 z M521.80,83.58 l3.25,5.62 h-6.50 z M522.00,83.33 l3.25,5.62 h-6.50 z M522.19,83.07 l3.25,5.62 h-6.50 z M522.41,82.78 l3.25,5.62 h-6.50 z M522.64,82.49 l3.25,5.62 h-6.50 z M522.86,82.21 l3.25,5.62 h-6.50 z M523.08,81.92 l3.25,5.62 h-6.50 z M523.29,81.64 l3.25,5.62 h-6.50 z M523.51,81.35 l3.25,5.62 h-6.50 z M523.73,81.07 l3.25,5.62 h-6.50 z M523.94,80.79 l3.25,5.62 h-6.50 z M524.16,80.51 l3.25,5.62 h-6.50 z M524.37,80.23 l3.25,5.62 h-6.50 z M524.58,79.95 l3.25,5.62 h-6.50 z M524.80,79.67 l3.25,5.62 h-6.50 z M525.01,79.39 l3.25,5.62 h-6.50 z M525.22,79.12 l3.25,5.62 h-6.50 z M525.43,78.84 l3.25,5.62 h-6.50 z M525.63,78.57 l3.25,5.62 h-6.50 z M525.84,78.29 l3.25,5.62 h-6.50 z M526.05,78.02 l3.25,5.62 h-6.50 z M526.25,77.75 l3.25,5.62 h-6.50 z M526.46,77.48 l3.25,5.62 h-6.50 z M526.66,77.21 l3.25,5.62 h-6.50 z M526.87,76.94 l3.25,5.62 h-6.50 z M527.07,76.67 l3.25,5.62 h-6.50 z M527.27,76.41 l3.25,5.62 h-6.50 z M527.47,76.14 l3.25,5.62 h-6.50 z M527.67,75.87 l3.25,5.62 h-6.50 z M527.87,75.61 l3.25,5.62 h-6.50 z M528.07,75.34 l3.25,5.62 h-6.50 z M528.26,75.08 l3.25,5.62 h-6.50 z M528.46,74.81 l3.25,5.62 h-6.50 z M528.66,74.55 l3.25,5.62 h-6.50 z M528.85,74.28 l3.25,5.62 h-6.50 z M529.05,74.02 l3.25,5.62 h-6.50 z M529.24,73.75 l3.25,5.62 h-6.50 z M529.43,73.49 l3.25,5.62 h-6.50 z M529.62,73.22 l3.25,5.62 h-6.50 z M529.81,72.96 l3.25,5.62 h-6.50 z M530.00,72.69 l3.25,5.62 h-6.50 z M530.19,72.43 l3.25,5.62 h-6.50 z M530.38,72.17 l3.25,5.62 h-6.50 z M530.57,71.90 l3.25,5.62 h-6.50 z M530.76,71.64 l3.25,5.62 h-6.50 z M530.95,71.38 l3.25,5.62 h-6.50 z M531.13,71.11 l3.25,5.62 h-6.50 z M531.32,70.85 l3.25,5.62 h-6.50 z M531.50,70.59 l3.25,5.62 h-6.50 z M531.71,70.30 l3.25,5.62 h-6.50 z M531.91,70.00 l3.25,5.62 h-6.50 z M532.12,69.71 l3.25,5.62 h-6.50 z M532.32,69.42 l3.25,5.62 h-6.50 z M532.53,69.12 l3.25,5.62 h-6.50 z M532.73,68.83 l3.25,5.62 h-6.50 z M532.93,68.54 l3.25,5.62 h-6.50 z M533.13,68.25 l3.25,5.62 h-6.50 z M533.33,67.96 l3.25,5.62 h-6.50 z M533.53,67.68 l3.25,5.62 h-6.50 z M533.73,67.39 l3.25,5.62 h-6.50 z M533.93,67.10 l3.25,5.62 h-6.50 z M534.13,66.81 l3.25,5.62 h-6.50 z M534.32,66.53 l3.25,5.62 h-6.50 z M534.52,66.24 l3.25,5.62 h-6.50 z M534.71,65.96 l3.25,5.62 h-6.50 z M534.91,65.68 l3.25,5.62 h-6.50 z M535.10,65.39 l3.25,5.62 h-6.50 z M535.29,65.11 l3.25,5.62 h-6.50 z M535.48,64.83 l3.25,5.62 h-6.50 z M535.67,64.55 l3.25,5.62 h-6.50 z M535.86,64.27 l3.25,5.62 h-6.50 z M536.05,63.99 l3.25,5.62 h-6.50 z M536.24,63.71 l3.25,5.62 h-6.50 z M536.43,63.44 l3.25,5.62 h-6.50 z M536.62,63.16 l3.25,5.62 h-6.50 z M536.80,62.88 l3.25,5.62 h-6.50 z M536.99,62.61 l3.25,5.62 h-6.50 z M537.17,62.33 l3.25,5.62 h-6.50 z M537.36,62.06 l3.25,5.62 h-6.50 z M537.54,61.78 l3.25,5.62 h-6.50 z M537.72,61.51 l3.25,5.62 h-6.50 z M537.91,61.23 l3.25,5.62 h-6.50 z M538.09,60.96 l3.25,5.62 h-6.50 z M538.27,60.68 l3.25,5.62 h-6.50 z M538.45,60.41 l3.25,5.62 h-6.50 z M538.63,60.13 l3.25,5.62 h-6.50 z M538.81,59.85 l3.25,5.62 h-6.50 z M538.99,59.58 l3.25,5.62 h-6.50 z M539.16,59.30 l3.25,5.62 h-6.50 z M539.34,59.02 l3.25,5.62 h-6.50 z M539.52,58.75 l3.25,5.62 h-6.50 z M539.69,58.47 l3.25,5.62 h-6.50 z M539.87,58.19 l3.25,5.62 h-6.50 z M540.04,57.92 l3.25,5.62 h-6.50 z M540.22,57.64 l3.25,5.62 h-6.50 z M540.39,57.37 l3.25,5.62 h-6.50 z M540.56,57.09 l3.25,5.62 h-6.50 z M540.73,56.82 l3.25,5.62 h-6.50 z M540.91,56.54 l3.25,5.62 h-6.50 z M541.08,56.27 l3.25,5.62 h-6.50 z M541.25,55.99 l3.25,5.62 h-6.50 z M541.42,55.72 l3.25,5.62 h-6.50 z M541.59,55.44 l3.25,5.62 h-6.50 z M541.75,55.17 l3.25,5.62 h-6.50 z M541.92,54.90 l3.25,5.62 h-6.50 z M542.11,54.59 l3.25,5.62 h-6.50 z M542.29,54.29 l3.25,5.62 h-6.50 z M542.48,53.99 l3.25,5.62 h-6.50 z M542.66,53.69 l3.25,5.62 h-6.50 z M542.85,53.39 l3.25,5.62 h-6.50 z M543.03,53.09 l3.25,5.62 h-6.50 z M543.21,52.79 l3.25,5.62 h-6.50 z M543.39,52.49 l3.25,5.62 h-6.50 z M543.57,52.19 l3.25,5.62 h-6.50 z M543.75,51.89 l3.25,5.62 h-6.50 z M543.93,51.60 l3.25,5.62 h-6.50 z M544.11,51.30 l3.25,5.62 h-6.50 z M544.29,51.01 l3.25,5.62 h-6.50 z M544.46,50.71 l3.25,5.62 h-6.50 z M544.64,50.42 l3.25,5.62 h-6.50 z M544.82,50.13 l3.25,5.62 h-6.50 z M544.99,49.83 l3.25,5.62 h-6.50 z M545.17,49.54 l3.25,5.62 h-6.50 z M545.34,49.25 l3.25,5.62 h-6.50 z M545.51,48.97 l3.25,5.62 h-6.50 z M545.69,48.68 l3.25,5.62 h-6.50 z M545.86,48.39 l3.25,5.62 h-6.50 z M546.03,48.11 l3.25,5.62 h-6.50 z M546.20,47.82 l3.25,5.62 h-6.50 z M546.37,47.53 l3.25,5.62 h-6.50 z M546.54,47.24 l3.25,5.62 h-6.50 z M546.71,46.95 l3.25,5.62 h-6.50 z M546.88,46.66 l3.25,5.62 h-6.50 z M547.05,46.36 l3.25,5.62 h-6.50 z M547.21,46.07 l3.25,5.62 h-6.50 z M547.38,45.78 l3.25,5.62 h-6.50 z M547.55,45.49 l3.25,5.62 h-6.50 z M547.71,45.19 l3.25,5.62 h-6.50 z M547.88,44.90 l3.25,5.62 h-6.50 z M548.04,44.61 l3.25,5.62 h-6.50 z M548.21,44.31 l3.25,5.62 h-6.50 z M548.37,44.02 l3.25,5.62 h-6.50 z M548.53,43.73 l3.25,5.62 h-6.50 z M548.70,43.44 l3.25,5.62 h-6.50 z M548.86,43.15 l3.25,5.62 h-6.50 z M549.02,42.86 l3.25,5.62 h-6.50 z M549.18,42.57 l3.25,5.62 h-6.50 z M549.34,42.29 l3.25,5.62 h-6.50 z M549.50,42.00 l3.25,5.62 h-6.50 z M549.66,41.72 l3.25,5.62 h-6.50 z M549.82,41.44 l3.25,5.62 h-6.50 z M549.98,41.16 l3.25,5.62 h-6.50 z M550.15,40.85 l3.25,5.62 h-6.50 z M550.32,40.55 l3.25,5.62 h-6.50 z M550.49,40.25 l3.25,5.62 h-6.50 z M550.67,39.95 l3.25,5.62 h-6.50 z M550.84,39.65 l3.25,5.62 h-6.50 z M551.01,39.36 l3.25,5.62 h-6.50 z M551.18,39.07 l3.25,5.62 h-6.50 z M551.35,38.78 l3.25,5.62 h-6.50 z M551.52,38.50 l3.25,5.62 h-6.50 z M551.68,38.22 l3.25,5.62 h-6.50 z M551.85,37.94 l3.25,5.62 h-6.50 z M552.02,37.67 l3.25,5.62 h-6.50 z M552.20,37.38 l3.25,5.62 h-6.50 z M552.38,37.09 l3.25,5.62 h-6.50 z M552.56,36.80 l3.25,5.62 h-6.50 z M552.74,36.52 l3.25,5.62 h-6.50 z M552.92,36.25 l3.25,5.62 h-6.50 z M553.10,35.98 l3.25,5.62 h-6.50 z M553.29,35.69 l3.25,5.62 h-6.50 z M553.48,35.41 l3.25,5.62 h-6.50 z M553.67,35.13 l3.25,5.62 h-6.50 z M553.86,34.85 l3.25,5.62 h-6.50 z M554.05,34.57 l3.25,5.62 h-6.50 z M554.24,34.29 l3.25,5.62 h-6.50 z M554.43,34.01 l3.25,5.62 h-6.50 z M554.62,33.74 l3.25,5.62 h-6.50 z M554.80,33.46 l3.25,5.62 h-6.50 z M554.99,33.19 l3.25,5.62 h-6.50 z M555.17,32.92 l3.25,5.62 h-6.50 z M555.36,32.64 l3.25,5.62 h-6.50 z M555.54,32.37 l3.25,5.62 h-6.50 z M555.72,32.10 l3.25,5.62 h-6.50 z M555.91,31.83 l3.25,5.62 h-6.50 z M556.09,31.56 l3.25,5.62 h-6.50 z M556.27,31.30 l3.25,5.62 h-6.50 z M556.45,31.03 l3.25,5.62 h-6.50 z M556.64,30.75 l3.25,5.62 h-6.50 z M556.84,30.47 l3.25,5.62 h-6.50 z M557.03,30.19 l3.25,5.62 h-6.50 z M557.22,29.91 l3.25,5.62 h-6.50 z M557.41,29.63 l3.25,5.62 h-6.50 z M557.60,29.35 l3.25,5.62 h-6.50 z M557.79,29.08 l3.25,5.62 h-6.50 z M557.98,28.81 l3.25,5.62 h-6.50 z M558.18,28.55 l3.25,5.62 h-6.50 z M558.38,28.29 l3.25,5.62 h-6.50 z M558.59,28.03 l3.25,5.62 h-6.50 z M558.80,27.79 l3.25,5.62 h-6.50 z M559.03,27.54 l3.25,5.62 h-6.50 z M559.25,27.29 l3.25,5.62 h-6.50 z M559.47,27.06 l3.25,5.62 h-6.50 z M559.69,26.83 l3.25,5.62 h-6.50 z M559.92,26.58 l3.25,5.62 h-6.50 z M560.16,26.34 l3.25,5.62 h-6.50 z M560.39,26.09 l3.25,5.62 h-6.50 z M560.60,25.85 l3.25,5.62 h-6.50 z M560.82,25.61 l3.25,5.62 h-6.50 z M561.03,25.35 l3.25,5.62 h-6.50 z M561.25,25.09 l3.25,5.62 h-6.50 z" fill="none" stroke="#ff4500" stroke-width="0.7"/>
<path d="M224.10,353.98 l3.25,-5.62 h-6.50 z M243.96,351.92 l3.25,-5.62 h-6.50 z M258.05,349.92 l3.25,-5.62 h-6.50 z M268.98,347.81 l3.25,-5.62 h-6.50 z M277.91,345.63 l3.25,-5.62 h-6.50 z M285.46,343.59 l3.25,-5.62 h-6.50 z M292.00,341.66 l3.25,-5.62 h-6.50 z M297.77,339.79 l3.25,-5.62 h-6.50 z M302.93,337.96 l3.25,-5.62 h-6.50 z M307.60,336.15 l3.25,-5.62 h-6.50 z M311.86,334.36 l3.25,-5.62 h-6.50 z M315.79,332.56 l3.25,-5.62 h-6.50 z M319.42,330.68 l3.25,-5.62 h-6.50 z M322.80,328.76 l3.25,-5.62 h-6.50 z M325.96,326.82 l3.25,-5.62 h-6.50 z M328.93,324.87 l3.25,-5.62 h-6.50 z M331.73,322.93 l3.25,-5.62 h-6.50 z M334.37,321.00 l3.25,-5.62 h-6.50 z M336.89,319.10 l3.25,-5.62 h-6.50 z M339.28,317.26 l3.25,-5.62 h-6.50 z M341.56,315.44 l3.25,-5.62 h-6.50 z M343.73,313.64 l3.25,-5.62 h-6.50 z M345.82,311.88 l3.25,-5.62 h-6.50 z M347.82,310.16 l3.25,-5.62 h-6.50 z M349.74,308.48 l3.25,-5.62 h-6.50 z M351.59,306.84 l3.25,-5.62 h-6.50 z M353.37,305.23 l3.25,-5.62 h-6.50 z M355.09,303.67 l3.25,-5.62 h-6.50 z M356.75,302.14 l3.25,-5.62 h-6.50 z M358.35,300.61 l3.25,-5.62 h-6.50 z M359.91,299.08 l3.25,-5.62 h-6.50 z M361.42,297.56 l3.25,-5.62 h-6.50 z M362.88,296.05 l3.25,-5.62 h-6.50 z M364.30,294.56 l3.25,-5.62 h-6.50 z M365.68,293.08 l3.25,-5.62 h-6.50 z M367.02,291.62 l3.25,-5.62 h-6.50 z M368.33,290.17 l3.25,-5.62 h-6.50 z M369.60,288.75 l3.25,-5.62 h-6.50 z M370.84,287.33 l3.25,-5.62 h-6.50 z M372.05,285.92 l3.25,-5.62 h-6.50 z M373.23,284.51 l3.25,-5.62 h-6.50 z M374.38,283.10 l3.25,-5.62 h-6.50 z M375.51,281.71 l3.25,-5.62 h-6.50 z M376.61,280.33 l3.25,-5.62 h-6.50 z M377.69,278.96 l3.25,-5.62 h-6.50 z M378.74,277.61 l3.25,-5.62 h-6.50 z M379.77,276.28 l3.25,-5.62 h-6.50 z M380.78,274.97 l3.25,-5.62 h-6.50 z M381.77,273.68 l3.25,-5.62 h-6.50 z M382.74,272.41 l3.25,-5.62 h-6.50 z M383.69,271.16 l3.25,-5.62 h-6.50 z M384.62,269.94 l3.25,-5.62 h-6.50 z M385.54,268.74 l3.25,-5.62 h-6.50 z M386.44,267.57 l3.25,-5.62 h-6.50 z M387.32,266.42 l3.25,-5.62 h-6.50 z M388.19,265.29 l3.25,-5.62 h-6.50 z M389.04,264.18 l3.25,-5.62 h-6.50 z M389.88,263.09 l3.25,-5.62 h-6.50 z M390.70,262.00 l3.25,-5.62 h-6.50 z M391.51,260.92 l3.25,-5.62 h-6.50 z M392.31,259.86 l3.25,-5.62 h-6.50 z M393.09,258.81 l3.25,-5.62 h-6.50 z M393.86,257.76 l3.25,-5.62 h-6.50 z M394.62,256.73 l3.25,-5.62 h-6.50 z M395.37,255.72 l3.25,-5.62 h-6.50 z M396.11,254.71 l3.25,-5.62 h-6.50 z M396.83,253.72 l3.25,-5.62 h-6.50 z M397.55,252.75 l3.25,-5.62 h-6.50 z M398.25,251.78 l3.25,-5.62 h-6.50 z M398.95,250.84 l3.25,-5.62 h-6.50 z M399.63,249.90 l3.25,-5.62 h-6.50 z M400.31,248.98 l3.25,-5.62 h-6.50 z M400.97,248.07 l3.25,-5.62 h-6.50 z M401.63,247.18 l3.25,-5.62 h-6.50 z M402.28,246.30 l3.25,-5.62 h-6.50 z M402.92,245.44 l3.25,-5.62 h-6.50 z M403.55,244.59 l3.25,-5.62 h-6.50 z M404.18,243.76 l3.25,-5.62 h-6.50 z M404.79,242.93 l3.25,-5.62 h-6.50 z M405.40,242.12 l3.25,-5.62 h-6.50 z M406.00,241.32 l3.25,-5.62 h-6.50 z M406.59,240.52 l3.25,-5.62 h-6.50 z M407.18,239.74 l3.25,-5.62 h-6.50 z M407.76,238.97 l3.25,-5.62 h-6.50 z M408.33,238.21 l3.25,-5.62 h-6.50 z M408.90,237.45 l3.25,-5.62 h-6.50 z M409.46,236.71 l3.25,-5.62 h-6.50 z M410.01,235.97 l3.25,-5.62 h-6.50 z M410.56,235.25 l3.25,-5.62 h-6.50 z M411.10,234.53 l3.25,-5.62 h-6.50 z M411.64,233.83 l3.25,-5.62 h-6.50 z M412.17,233.13 l3.25,-5.62 h-6.50 z M412.69,232.44 l3.25,-5.62 h-6.50 z M413.21,231.76 l3.25,-5.62 h-6.50 z M413.72,231.09 l3.25,-5.62 h-6.50 z M414.23,230.42 l3.25,-5.62 h-6.50 z M414.73,229.77 l3.25,-5.62 h-6.50 z M415.23,229.12 l3.25,-5.62 h-6.50 z M415.72,228.48 l3.25,-5.62 h-6.50 z M416.21,227.84 l3.25,-5.62 h-6.50 z M416.69,227.21 l3.25,-5.62 h-6.50 z M417.17,226.59 l3.25,-5.62 h-6.50 z M417.64,225.98 l3.25,-5.62 h-6.50 z M418.11,225.36 l3.25,-5.62 h-6.50 z M418.58,224.76 l3.25,-5.62 h-6.50 z M419.04,224.16 l3.25,-5.62 h-6.50 z M419.49,223.57 l3.25,-5.62 h-6.50 z M419.94,222.98 l3.25,-5.62 h-6.50 z M420.39,222.40 l3.25,-5.62 h-6.50 z M420.83,221.83 l3.25,-5.62 h-6.50 z M421.27,221.26 l3.25,-5.62 h-6.50 z M421.71,220.69 l3.25,-5.62 h-6.50 z M422.14,220.13 l3.25,-5.62 h-6.50 z M422.57,219.58 l3.25,-5.62 h-6.50 z M422.99,219.03 l3.25,-5.62 h-6.50 z M423.41,218.48 l3.25,-5.62 h-6.50 z M423.83,217.95 l3.25,-5.62 h-6.50 z M424.24,217.41 l3.25,-5.62 h-6.50 z M424.65,216.88 l3.25,-5.62 h-6.50 z M425.06,216.35 l3.25,-5.62 h-6.50 z M425.46,215.83 l3.25,-5.62 h-6.50 z M425.86,215.31 l3.25,-5.62 h-6.50 z M426.26,214.80 l3.25,-5.62 h-6.50 z M426.65,214.29 l3.25,-5.62 h-6.50 z M427.04,213.79 l3.25,-5.62 h-6.50 z M427.43,213.28 l3.25,-5.62 h-6.50 z M427.81,212.79 l3.25,-5.62 h-6.50 z M428.19,212.29 l3.25,-5.62 h-6.50 z M428.57,211.80 l3.25,-5.62 h-6.50 z M428.95,211.32 l3.25,-5.62 h-6.50 z M429.32,210.84 l3.25,-5.62 h-6.50 z M429.69,210.36 l3.25,-5.62 h-6.50 z M430.06,209.88 l3.25,-5.62 h-6.50 z M430.42,209.41 l3.25,-5.62 h-6.50 z M430.78,208.94 l3.25,-5.62 h-6.50 z M431.14,208.48 l3.25,-5.62 h-6.50 z M431.50,208.02 l3.25,-5.62 h-6.50 z M431.85,207.56 l3.25,-5.62 h-6.50 z M432.20,207.11 l3.25,-5.62 h-6.50 z M432.55,206.66 l3.25,-5.62 h-6.50 z M432.90,206.21 l3.25,-5.62 h-6.50 z M433.24,205.77 l3.25,-5.62 h-6.50 z M433.58,205.33 l3.25,-5.62 h-6.50 z M433.92,204.89 l3.25,-5.62 h-6.50 z M434.26,204.46 l3.25,-5.62 h-6.50 z M434.59,204.03 l3.25,-5.62 h-6.50 z M434.93,203.60 l3.25,-5.62 h-6.50 z M435.26,203.18 l3.25,-5.62 h-6.50 z M435.58,202.76 l3.25,-5.62 h-6.50 z M435.91,202.34 l3.25,-5.62 h-6.50 z M436.23,201.92 l3.25,-5.62 h-6.50 z M436.55,201.51 l3.25,-5.62 h-6.50 z M436.87,201.10 l3.25,-5.62 h-6.50 z M437.19,200.69 l3.25,-5.62 h-6.50 z M437.50,200.29 l3.25,-5.62 h-6.50 z M437.82,199.89 l3.25,-5.62 h-6.50 z M438.13,199.49 l3.25,-5.62 h-6.50 z M438.44,199.10 l3.25,-5.62 h-6.50 z M438.74,198.71 l3.25,-5.62 h-6.50 z M439.05,198.32 l3.25,-5.62 h-6.50 z M439.35,197.93 l3.25,-5.62 h-6.50 z M439.65,197.55 l3.25,-5.62 h-6.50 z M439.95,197.17 l3.25,-5.62 h-6.50 z M440.25,196.79 l3.25,-5.62 h-6.50 z M440.55,196.41 l3.25,-5.62 h-6.50 z M440.84,196.04 l3.25,-5.62 h-6.50 z M441.13,195.67 l3.25,-5.62 h-6.50 z M441.42,195.30 l3.25,-5.62 h-6.50 z M441.71,194.93 l3.25,-5.62 h-6.50 z M442.00,194.57 l3.25,-5.62 h-6.50 z M442.29,194.21 l3.25,-5.62 h-6.50 z M442.57,193.85 l3.25,-5.62 h-6.50 z M442.85,193.49 l3.25,-5.62 h-6.50 z M443.13,193.14 l3.25,-5.62 h-6.50 z M443.41,192.79 l3.25,-5.62 h-6.50 z M443.69,192.44 l3.25,-5.62 h-6.50 z M443.97,192.10 l3.25,-5.62 h-6.50 z M444.24,191.76 l3.25,-5.62 h-6.50 z M444.51,191.42 l3.25,-5.62 h-6.50 z M444.78,191.08 l3.25,-5.62 h-6.50 z M445.05,190.74 l3.25,-5.62 h-6.50 z M445.32,190.41 l3.25,-5.62 h-6.50 z M445.59,190.08 l3.25,-5.62 h-6.50 z M445.86,189.75 l3.25,-5.62 h-6.50 z M446.12,189.42 l3.25,-5.62 h-6.50 z M446.38,189.10 l3.25,-5.62 h-6.50 z M446.64,188.78 l3.25,-5.62 h-6.50 z M446.90,188.46 l3.25,-5.62 h-6.50 z M447.16,188.14 l3.25,-5.62 h-6.50 z M447.42,187.82 l3.25,-5.62 h-6.50 z M447.67,187.51 l3.25,-5.62 h-6.50 z M447.93,187.19 l3.25,-5.62 h-6.50 z M448.18,186.88 l3.25,-5.62 h-6.50 z M448.43,186.57 l3.25,-5.62 h-6.50 z M448.68,186.27 l3.25,-5.62 h-6.50 z M448.93,185.96 l3.25,-5.62 h-6.50 z M449.18,185.66 l3.25,-5.62 h-6.50 z M449.43,185.35 l3.25,-5.62 h-6.50 z M449.67,185.05 l3.25,-5.62 h-6.50 z M449.92,184.75 l3.25,-5.62 h-6.50 z M450.16,184.46 l3.25,-5.62 h-6.50 z M450.40,184.16 l3.25,-5.62 h-6.50 z M450.64,183.86 l3.25,-5.62 h-6.50 z M450.88,183.57 l3.25,-5.62 h-6.50 z M451.12,183.28 l3.25,-5.62 h-6.50 z M451.36,182.99 l3.25,-5.62 h-6.50 z M451.60,182.70 l3.25,-5.62 h-6.50 z M451.83,182.41 l3.25,-5.62 h-6.50 z M452.06,182.13 l3.25,-5.62 h-6.50 z M452.30,181.84 l3.25,-5.62 h-6.50 z M452.53,181.56 l3.25,-5.62 h-6.50 z M452.76,181.27 l3.25,-5.62 h-6.50 z M452.99,180.99 l3.25,-5.62 h-6.50 z M453.22,180.71 l3.25,-5.62 h-6.50 z M453.44,180.43 l3.25,-5.62 h-6.50 z M453.67,180.15 l3.25,-5.62 h-6.50 z M453.90,179.88 l3.25,-5.62 h-6.50 z M454.12,179.60 l3.25,-5.62 h-6.50 z M454.34,179.33 l3.25,-5.62 h-6.50 z M454.56,179.05 l3.25,-5.62 h-6.50 z M454.79,178.78 l3.25,-5.62 h-6.50 z M455.01,178.51 l3.25,-5.62 h-6.50 z M455.23,178.24 l3.25,-5.62 h-6.50 z M455.44,177.97 l3.25,-5.62 h-6.50 z M455.66,177.70 l3.25,-5.62 h-6.50 z M455.88,177.43 l3.25,-5.62 h-6.50 z M456.09,177.16 l3.25,-5.62 h-6.50 z M456.31,176.90 l3.25,-5.62 h-6.50 z M456.52,176.63 l3.25,-5.62 h-6.50 z M456.73,176.37 l3.25,-5.62 h-6.50 z M456.94,176.10 l3.25,-5.62 h-6.50 z M457.15,175.84 l3.25,-5.62 h-6.50 z M457.36,175.58 l3.25,-5.62 h-6.50 z M457.57,175.32 l3.25,-5.62 h-6.50 z M457.78,175.06 l3.25,-5.62 h-6.50 z M457.99,174.80 l3.25,-5.62 h-6.50 z M458.19,174.54 l3.25,-5.62 h-6.50 z M458.40,174.28 l3.25,-5.62 h-6.50 z M458.60,174.02 l3.25,-5.62 h-6.50 z M458.81,173.76 l3.25,-5.62 h-6.50 z M459.01,173.51 l3.25,-5.62 h-6.50 z M459.21,173.25 l3.25,-5.62 h-6.50 z M459.41,173.00 l3.25,-5.62 h-6.50 z M459.61,172.74 l3.25,-5.62 h-6.50 z M459.81,172.49 l3.25,-5.62 h-6.50 z M460.01,172.24 l3.25,-5.62 h-6.50 z M460.21,171.98 l3.25,-5.62 h-6.50 z M460.60,171.48 l3.25,-5.62 h-6.50 z M460.99,170.98 l3.25,-5.62 h-6.50 z M461.38,170.48 l3.25,-5.62 h-6.50 z M461.77,169.99 l3.25,-5.62 h-6.50 z M462.15,169.50 l3.25,-5.62 h-6.50 z M462.53,169.01 l3.25,-5.62 h-6.50 z M462.90,168.52 l3.25,-5.62 h-6.50 z M463.27,168.03 l3.25,-5.62 h-6.50 z M463.64,167.55 l3.25,-5.62 h-6.50 z M464.01,167.07 l3.25,-5.62 h-6.50 z M464.37,166.60 l3.25,-5.62 h-6.50 z M464.74,166.12 l3.25,-5.62 h-6.50 z M465.09,165.65 l3.25,-5.62 h-6.50 z M465.45,165.18 l3.25,-5.62 h-6.50 z M465.80,164.72 l3.25,-5.62 h-6.50 z M466.16,164.25 l3.25,-5.62 h-6.50 z M466.50,163.79 l3.25,-5.62 h-6.50 z M466.85,163.33 l3.25,-5.62 h-6.50 z M467.19,162.88 l3.25,-5.62 h-6.50 z M467.54,162.43 l3.25,-5.62 h-6.50 z M467.87,161.98 l3.25,-5.62 h-6.50 z M468.21,161.53 l3.25,-5.62 h-6.50 z M468.55,161.08 l3.25,-5.62 h-6.50 z M468.88,160.64 l3.25,-5.62 h-6.50 z M469.21,160.20 l3.25,-5.62 h-6.50 z M469.54,159.76 l3.25,-5.62 h-6.50 z M469.86,159.33 l3.25,-5.62 h-6.50 z M470.18,158.89 l3.25,-5.62 h-6.50 z M470.51,158.46 l3.25,-5.62 h-6.50 z M470.82,158.04 l3.25,-5.62 h-6.50 z M471.14,157.61 l3.25,-5.62 h-6.50 z M471.46,157.19 l3.25,-5.62 h-6.50 z M471.77,156.77 l3.25,-5.62 h-6.50 z M472.08,156.35 l3.25,-5.62 h-6.50 z M472.39,155.94 l3.25,-5.62 h-6.50 z M472.70,155.52 l3.25,-5.62 h-6.50 z M473.00,155.11 l3.25,-5.62 h-6.50 z M473.30,154.70 l3.25,-5.62 h-6.50 z M473.61,154.30 l3.25,-5.62 h-6.50 z M473.91,153.89 l3.25,-5.62 h-6.50 z M474.20,153.49 l3.25,-5.62 h-6.50 z M474.50,153.09 l3.25,-5.62 h-6.50 z M474.79,152.70 l3.25,-5.62 h-6.50 z M475.09,152.30 l3.25,-5.62 h-6.50 z M475.38,151.91 l3.25,-5.62 h-6.50 z M475.67,151.52 l3.25,-5.62 h-6.50 z M475.95,151.13 l3.25,-5.62 h-6.50 z M476.24,150.75 l3.25,-5.62 h-6.50 z M476.52,150.37 l3.25,-5.62 h-6.50 z M476.81,149.98 l3.25,-5.62 h-6.50 z M477.09,149.61 l3.25,-5.62 h-6.50 z M477.36,149.23 l3.25,-5.62 h-6.50 z M477.64,148.86 l3.25,-5.62 h-6.50 z M477.92,148.48 l3.25,-5.62 h-6.50 z M478.19,148.11 l3.25,-5.62 h-6.50 z M478.47,147.75 l3.25,-5.62 h-6.50 z M478.74,147.38 l3.25,-5.62 h-6.50 z M479.01,147.02 l3.25,-5.62 h-6.50 z M479.28,146.66 l3.25,-5.62 h-6.50 z M479.54,146.30 l3.25,-5.62 h-6.50 z M479.81,145.94 l3.25,-5.62 h-6.50 z M480.07,145.58 l3.25,-5.62 h-6.50 z M480.33,145.23 l3.25,-5.62 h-6.50 z M480.60,144.88 l3.25,-5.62 h-6.50 z M480.86,144.53 l3.25,-5.62 h-6.50 z M481.11,144.18 l3.25,-5.62 h-6.50 z M481.37,143.84 l3.25,-5.62 h-6.50 z M481.63,143.50 l3.25,-5.62 h-6.50 z M481.88,143.15 l3.25,-5.62 h-6.50 z M482.13,142.82 l3.25,-5.62 h-6.50 z M482.39,142.48 l3.25,-5.62 h-6.50 z M482.64,142.14 l3.25,-5.62 h-6.50 z M482.89,141.81 l3.25,-5.62 h-6.50 z M483.13,141.48 l3.25,-5.62 h-6.50 z M483.38,141.15 l3.25,-5.62 h-6.50 z M483.63,140.82 l3.25,-5.62 h-6.50 z M483.87,140.50 l3.25,-5.62 h-6.50 z M484.11,140.17 l3.25,-5.62 h-6.50 z M484.36,139.85 l3.25,-5.62 h-6.50 z M484.60,139.53 l3.25,-5.62 h-6.50 z M484.84,139.21 l3.25,-5.62 h-6.50 z M485.07,138.90 l3.25,-5.62 h-6.50 z M485.31,138.58 l3.25,-5.62 h-6.50 z M485.55,138.27 l3.25,-5.62 h-6.50 z M485.78,137.96 l3.25,-5.62 h-6.50 z M486.02,137.65 l3.25,-5.62 h-6.50 z M486.25,137.34 l3.25,-5.62 h-6.50 z M486.48,137.03 l3.25,-5.62 h-6.50 z M486.71,136.73 l3.25,-5.62 h-6.50 z M486.94,136.43 l3.25,-5.62 h-6.50 z M487.17,136.13 l3.25,-5.62 h-6.50 z M487.40,135.83 l3.25,-5.62 h-6.50 z M487.62,135.53 l3.25,-5.62 h-6.50 z M487.85,135.24 l3.25,-5.62 h-6.50 z M488.07,134.94 l3.25,-5.62 h-6.50 z M488.30,134.65 l3.25,-5.62 h-6.50 z M488.52,134.36 l3.25,-5.62 h-6.50 z M488.74,134.07 l3.25,-5.62 h-6.50 z M488.96,133.78 l3.25,-5.62 h-6.50 z M489.18,133.50 l3.25,-5.62 h-6.50 z M489.40,133.21 l3.25,-5.62 h-6.50 z M489.61,132.93 l3.25,-5.62 h-6.50 z M489.83,132.65 l3.25,-5.62 h-6.50 z M490.04,132.37 l3.25,-5.62 h-6.50 z M490.26,132.09 l3.25,-5.62 h-6.50 z M490.47,131.82 l3.25,-5.62 h-6.50 z M490.69,131.54 l3.25,-5.62 h-6.50 z M490.90,131.27 l3.25,-5.62 h-6.50 z M491.11,130.99 l3.25,-5.62 h-6.50 z M491.32,130.72 l3.25,-5.62 h-6.50 z M491.53,130.45 l3.25,-5.62 h-6.50 z M491.73,130.18 l3.25,-5.62 h-6.50 z M491.94,129.91 l3.25,-5.62 h-6.50 z M492.15,129.65 l3.25,-5.62 h-6.50 z M492.35,129.38 l3.25,-5.62 h-6.50 z M492.56,129.12 l3.25,-5.62 h-6.50 z M492.76,128.85 l3.25,-5.62 h-6.50 z M492.96,128.59 l3.25,-5.62 h-6.50 z M493.17,128.33 l3.25,-5.62 h-6.50 z M493.37,128.07 l3.25,-5.62 h-6.50 z M493.57,127.81 l3.25,-5.62 h-6.50 z M493.77,127.55 l3.25,-5.62 h-6.50 z M493.97,127.30 l3.25,-5.62 h-6.50 z M494.16,127.04 l3.25,-5.62 h-6.50 z M494.36,126.79 l3.25,-5.62 h-6.50 z M494.56,126.54 l3.25,-5.62 h-6.50 z M494.85,126.16 l3.25,-5.62 h-6.50 z M495.14,125.78 l3.25,-5.62 h-6.50 z M495.43,125.41 l3.25,-5.62 h-6.50 z M495.72,125.04 l3.25,-5.62 h-6.50 z M496.00,124.67 l3.25,-5.62 h-6.50 z M496.29,124.31 l3.25,-5.62 h-6.50 z M496.57,123.94 l3.25,-5.62 h-6.50 z M496.85,123.58 l3.25,-5.62 h-6.50 z M497.13,123.23 l3.25,-5.62 h-6.50 z M497.41,122.87 l3.25,-5.62 h-6.50 z M497.69,122.51 l3.25,-5.62 h-6.50 z M497.96,122.16 l3.25,-5.62 h-6.50 z M498.24,121.81 l3.25,-5.62 h-6.50 z M498.51,121.46 l3.25,-5.62 h-6.50 z M498.78,121.12 l3.25,-5.62 h-6.50 z M499.05,120.77 l3.25,-5.62 h-6.50 z M499.31,120.43 l3.25,-5.62 h-6.50 z M499.58,120.09 l3.25,-5.62 h-6.50 z M499.84,119.75 l3.25,-5.62 h-6.50 z M500.11,119.42 l3.25,-5.62 h-6.50 z M500.37,119.08 l3.25,-5.62 h-6.50 z M500.63,118.75 l3.25,-5.62 h-6.50 z M500.89,118.42 l3.25,-5.62 h-6.50 z M501.15,118.09 l3.25,-5.62 h-6.50 z M501.40,117.76 l3.25,-5.62 h-6.50 z M501.66,117.44 l3.25,-5.62 h-6.50 z M501.91,117.11 l3.25,-5.62 h-6.50 z M502.16,116.79 l3.25,-5.62 h-6.50 z M502.41,116.47 l3.25,-5.62 h-6.50 z M502.66,116.15 l3.25,-5.62 h-6.50 z M502.91,115.84 l3.25,-5.62 h-6.50 z M503.16,115.52 l3.25,-5.62 h-6.50 z M503.41,115.21 l3.25,-5.62 h-6.50 z M503.65,114.90 l3.25,-5.62 h-6.50 z M503.89,114.59 l3.25,-5.62 h-6.50 z M504.14,114.28 l3.25,-5.62 h-6.50 z M504.38,113.97 l3.25,-5.62 h-6.50 z M504.62,113.67 l3.25,-5.62 h-6.50 z M504.86,113.36 l3.25,-5.62 h-6.50 z M505.09,113.06 l3.25,-5.62 h-6.50 z M505.33,112.76 l3.25,-5.62 h-6.50 z M505.57,112.46 l3.25,-5.62 h-6.50 z M505.80,112.16 l3.25,-5.62 h-6.50 z M506.03,111.86 l3.25,-5.62 h-6.50 z M506.26,111.57 l3.25,-5.62 h-6.50 z M506.50,111.27 l3.25,-5.62 h-6.50 z M506.73,110.98 l3.25,-5.62 h-6.50 z M506.95,110.69 l3.25,-5.62 h-6.50 z M507.18,110.40 l3.25,-5.62 h-6.50 z M507.41,110.11 l3.25,-5.62 h-6.50 z M507.63,109.82 l3.25,-5.62 h-6.50 z M507.86,109.54 l3.25,-5.62 h-6.50 z M508.08,109.25 l3.25,-5.62 h-6.50 z M508.30,108.97 l3.25,-5.62 h-6.50 z M508.53,108.69 l3.25,-5.62 h-6.50 z M508.75,108.41 l3.25,-5.62 h-6.50 z M508.97,108.13 l3.25,-5.62 h-6.50 z M509.18,107.85 l3.25,-5.62 h-6.50 z M509.40,107.57 l3.25,-5.62 h-6.50 z M509.62,107.30 l3.25,-5.62 h-6.50 z M509.83,107.02 l3.25,-5.62 h-6.50 z M510.05,106.75 l3.25,-5.62 h-6.50 z M510.26,106.48 l3.25,-5.62 h-6.50 z M510.48,106.21 l3.25,-5.62 h-6.50 z M510.69,105.94 l3.25,-5.62 h-6.50 z M510.90,105.67 l3.25,-5.62 h-6.50 z M511.11,105.40 l3.25,-5.62 h-6.50 z M511.32,105.13 l3.25,-5.62 h-6.50 z M511.53,104.87 l3.25,-5.62 h-6.50 z M511.73,104.60 l3.25,-5.62 h-6.50 z M511.94,104.34 l3.25,-5.62 h-6.50 z M512.15,104.08 l3.25,-5.62 h-6.50 z M512.35,103.82 l3.25,-5.62 h-6.50 z M512.55,103.56 l3.25,-5.62 h-6.50 z M512.76,103.30 l3.25,-5.62 h-6.50 z M512.96,103.04 l3.25,-5.62 h-6.50 z M513.16,102.78 l3.25,-5.62 h-6.50 z M513.36,102.53 l3.25,-5.62 h-6.50 z M513.56,102.27 l3.25,-5.62 h-6.50 z M513.76,102.02 l3.25,-5.62 h-6.50 z M513.96,101.76 l3.25,-5.62 h-6.50 z M514.16,101.51 l3.25,-5.62 h-6.50 z M514.42,101.18 l3.25,-5.62 h-6.50 z M514.68,100.84 l3.25,-5.62 h-6.50 z M514.94,100.51 l3.25,-5.62 h-6.50 z M515.20,100.19 l3.25,-5.62 h-6.50 z M515.45,99.86 l3.25,-5.62 h-6.50 z M515.71,99.53 l3.25,-5.62 h-6.50 z M515.96,99.21 l3.25,-5.62 h-6.50 z M516.21,98.89 l3.25,-5.62 h-6.50 z M516.46,98.57 l3.25,-5.62 h-6.50 z M516.71,98.25 l3.25,-5.62 h-6.50 z M516.96,97.94 l3.25,-5.62 h-6.50 z M517.21,97.62 l3.25,-5.62 h-6.50 z M517.46,97.31 l3.25,-5.62 h-6.50 z M517.70,97.00 l3.25,-5.62 h-6.50 z M517.95,96.69 l3.25,-5.62 h-6.50 z M518.19,96.38 l3.25,-5.62 h-6.50 z M518.43,96.08 l3.25,-5.62 h-6.50 z M518.67,95.77 l3.25,-5.62 h-6.50 z M518.91,95.47 l3.25,-5.62 h-6.50 z M519.15,95.17 l3.25,-5.62 h-6.50 z M519.38,94.87 l3.25,-5.62 h-6.50 z M519.62,94.57 l3.25,-5.62 h-6.50 z M519.85,94.28 l3.25,-5.62 h-6.50 z M520.09,93.98 l3.25,-5.62 h-6.50 z M520.32,93.69 l3.25,-5.62 h-6.50 z M520.55,93.39 l3.25,-5.62 h-6.50 z M520.78,93.10 l3.25,-5.62 h-6.50 z M521.01,92.81 l3.25,-5.62 h-6.50 z M521.24,92.53 l3.25,-5.62 h-6.50 z M521.46,92.24 l3.25,-5.62 h-6.50 z M521.69,91.95 l3.25,-5.62 h-6.50 z M521.91,91.67 l3.25,-5.62 h-6.50 z M522.14,91.39 l3.25,-5.62 h-6.50 z M522.36,91.10 l3.25,-5.62 h-6.50 z M522.58,90.82 l3.25,-5.62 h-6.50 z M522.80,90.54 l3.25,-5.62 h-6.50 z M523.02,90.27 l3.25,-5.62 h-6.50 z M523.24,89.99 l3.25,-5.62 h-6.50 z M523.46,89.71 l3.25,-5.62 h-6.50 z M523.67,89.44 l3.25,-5.62 h-6.50 z M523.89,89.16 l3.25,-5.62 h-6.50 z M524.10,88.89 l3.25,-5.62 h-6.50 z M524.32,88.62 l3.25,-5.62 h-6.50 z M524.53,88.35 l3.25,-5.62 h-6.50 z M524.74,88.08 l3.25,-5.62 h-6.50 z M524.95,87.81 l3.25,-5.62 h-6.50 z M525.16,87.55 l3.25,-5.62 h-6.50 z M525.37,87.28 l3.25,-5.62 h-6.50 z M525.58,87.01 l3.25,-5.62 h-6.50 z M525.79,86.75 l3.25,-5.62 h-6.50 z M526.00,86.49 l3.25,-5.62 h-6.50 z M526.20,86.22 l3.25,-5.62 h-6.50 z M526.41,85.96 l3.25,-5.62 h-6.50 z M526.61,85.70 l3.25,-5.62 h-6.50 z M526.81,85.44 l3.25,-5.62 h-6.50 z M527.02,85.18 l3.25,-5.62 h-6.50 z M527.22,84.93 l3.25,-5.62 h-6.50 z M527.42,84.67 l3.25,-5.62 h-6.50 z M527.62,84.41 l3.25,-5.62 h-6.50 z M527.82,84.16 l3.25,-5.62 h-6.50 z M528.02,83.90 l3.25,-5.62 h-6.50 z M528.21,83.65 l3.25,-5.62 h-6.50 z M528.41,83.40 l3.25,-5.62 h-6.50 z M528.66,83.08 l3.25,-5.62 h-6.50 z M528.90,82.77 l3.25,-5.62 h-6.50 z M529.14,82.46 l3.25,-5.62 h-6.50 z M529.38,82.15 l3.25,-5.62 h-6.50 z M529.62,81.84 l3.25,-5.62 h-6.50 z M529.86,81.53 l3.25,-5.62 h-6.50 z M530.10,81.22 l3.25,-5.62 h-6.50 z M530.34,80.92 l3.25,-5.62 h-6.50 z M530.57,80.61 l3.25,-5.62 h-6.50 z M530.81,80.31 l3.25,-5.62 h-6.50 z M531.04,80.00 l3.25,-5.62 h-6.50 z M531.27,79.70 l3.25,-5.62 h-6.50 z M531.50,79.40 l3.25,-5.62 h-6.50 z M531.73,79.10 l3.25,-5.62 h-6.50 z M531.96,78.80 l3.25,-5.62 h-6.50 z M532.19,78.50 l3.25,-5.62 h-6.50 z M532.41,78.21 l3.25,-5.62 h-6.50 z M532.64,77.91 l3.25,-5.62 h-6.50 z M532.87,77.62 l3.25,-5.62 h-6.50 z M533.09,77.33 l3.25,-5.62 h-6.50 z M533.31,77.04 l3.25,-5.62 h-6.50 z M533.53,76.75 l3.25,-5.62 h-6.50 z M533.75,76.46 l3.25,-5.62 h-6.50 z M533.97,76.17 l3.25,-5.62 h-6.50 z M534.19,75.88 l3.25,-5.62 h-6.50 z M534.41,75.60 l3.25,-5.62 h-6.50 z M534.63,75.31 l3.25,-5.62 h-6.50 z M534.84,75.03 l3.25,-5.62 h-6.50 z M535.06,74.75 l3.25,-5.62 h-6.50 z M535.27,74.47 l3.25,-5.62 h-6.50 z M535.48,74.19 l3.25,-5.62 h-6.50 z M535.69,73.91 l3.25,-5.62 h-6.50 z M535.91,73.63 l3.25,-5.62 h-6.50 z M536.12,73.35 l3.25,-5.62 h-6.50 z M536.33,73.08 l3.25,-5.62 h-6.50 z M536.53,72.80 l3.25,-5.62 h-6.50 z M536.74,72.53 l3.25,-5.62 h-6.50 z M536.95,72.25 l3.25,-5.62 h-6.50 z M537.15,71.98 l3.25,-5.62 h-6.50 z M537.36,71.71 l3.25,-5.62 h-6.50 z M537.56,71.44 l3.25,-5.62 h-6.50 z M537.77,71.17 l3.25,-5.62 h-6.50 z M537.97,70.90 l3.25,-5.62 h-6.50 z M538.17,70.63 l3.25,-5.62 h-6.50 z M538.37,70.37 l3.25,-5.62 h-6.50 z M538.57,70.10 l3.25,-5.62 h-6.50 z M538.77,69.84 l3.25,-5.62 h-6.50 z M538.97,69.57 l3.25,-5.62 h-6.50 z M539.16,69.31 l3.25,-5.62 h-6.50 z M539.36,69.04 l3.25,-5.62 h-6.50 z M539.56,68.78 l3.25,-5.62 h-6.50 z M539.75,68.52 l3.25,-5.62 h-6.50 z M539.95,68.26 l3.25,-5.62 h-6.50 z M540.14,68.00 l3.25,-5.62 h-6.50 z M540.33,67.74 l3.25,-5.62 h-6.50 z M540.52,67.48 l3.25,-5.62 h-6.50 z M540.72,67.22 l3.25,-5.62 h-6.50 z M540.91,66.96 l3.25,-5.62 h-6.50 z M541.13,66.65 l3.25,-5.62 h-6.50 z M541.36,66.35 l3.25,-5.62 h-6.50 z M541.59,66.04 l3.25,-5.62 h-6.50 z M541.81,65.73 l3.25,-5.62 h-6.50 z M542.03,65.43 l3.25,-5.62 h-6.50 z M542.26,65.13 l3.25,-5.62 h-6.50 z M542.48,64.82 l3.25,-5.62 h-6.50 z M542.70,64.52 l3.25,-5.62 h-6.50 z M542.92,64.22 l3.25,-5.62 h-6.50 z M543.14,63.92 l3.25,-5.62 h-6.50 z M543.35,63.62 l3.25,-5.62 h-6.50 z M543.57,63.32 l3.25,-5.62 h-6.50 z M543.79,63.02 l3.25,-5.62 h-6.50 z M544.00,62.72 l3.25,-5.62 h-6.50 z M544.21,62.43 l3.25,-5.62 h-6.50 z M544.43,62.13 l3.25,-5.62 h-6.50 z M544.64,61.83 l3.25,-5.62 h-6.50 z M544.85,61.54 l3.25,-5.62 h-6.50 z M545.06,61.25 l3.25,-5.62 h-6.50 z M545.27,60.95 l3.25,-5.62 h-6.50 z M545.48,60.66 l3.25,-5.62 h-6.50 z M545.69,60.37 l3.25,-5.62 h-6.50 z M545.89,60.08 l3.25,-5.62 h-6.50 z M546.10,59.79 l3.25,-5.62 h-6.50 z M546.30,59.50 l3.25,-5.62 h-6.50 z M546.51,59.21 l3.25,-5.62 h-6.50 z M546.71,58.92 l3.25,-5.62 h-6.50 z M546.91,58.63 l3.25,-5.62 h-6.50 z M547.11,58.35 l3.25,-5.62 h-6.50 z M547.31,58.06 l3.25,-5.62 h-6.50 z M547.51,57.78 l3.25,-5.62 h-6.50 z M547.71,57.49 l3.25,-5.62 h-6.50 z M547.91,57.21 l3.25,-5.62 h-6.50 z M548.11,56.93 l3.25,-5.62 h-6.50 z M548.30,56.64 l3.25,-5.62 h-6.50 z M548.50,56.36 l3.25,-5.62 h-6.50 z M548.70,56.08 l3.25,-5.62 h-6.50 z M548.89,55.80 l3.25,-5.62 h-6.50 z M549.08,55.53 l3.25,-5.62 h-6.50 z M549.28,55.25 l3.25,-5.62 h-6.50 z M549.47,54.97 l3.25,-5.62 h-6.50 z M549.66,54.69 l3.25,-5.62 h-6.50 z M549.85,54.42 l3.25,-5.62 h-6.50 z M550.04,54.14 l3.25,-5.62 h-6.50 z M550.23,53.87 l3.25,-5.62 h-6.50 z M550.42,53.60 l3.25,-5.62 h-6.50 z M550.60,53.32 l3.25,-5.62 h-6.50 z M550.79,53.05 l3.25,-5.62 h-6.50 z M550.98,52.78 l3.25,-5.62 h-6.50 z M551.16,52.51 l3.25,-5.62 h-6.50 z M551.35,52.24 l3.25,-5.62 h-6.50 z M551.53,51.97 l3.25,-5.62 h-6.50 z M551.71,51.71 l3.25,-5.62 h-6.50 z M551.90,51.44 l3.25,-5.62 h-6.50 z M552.08,51.17 l3.25,-5.62 h-6.50 z M552.26,50.91 l3.25,-5.62 h-6.50 z M552.44,50.64 l3.25,-5.62 h-6.50 z M552.65,50.34 l3.25,-5.62 h-6.50 z M552.86,50.03 l3.25,-5.62 h-6.50 z M553.07,49.72 l3.25,-5.62 h-6.50 z M553.28,49.42 l3.25,-5.62 h-6.50 z M553.48,49.12 l3.25,-5.62 h-6.50 z M553.69,48.81 l3.25,-5.62 h-6.50 z M553.89,48.51 l3.25,-5.62 h-6.50 z M554.10,48.21 l3.25,-5.62 h-6.50 z M554.30,47.91 l3.25,-5.62 h-6.50 z M554.50,47.62 l3.25,-5.62 h-6.50 z M554.70,47.32 l3.25,-5.62 h-6.50 z M554.90,47.02 l3.25,-5.62 h-6.50 z M555.10,46.73 l3.25,-5.62 h-6.50 z M555.30,46.44 l3.25,-5.62 h-6.50 z M555.50,46.14 l3.25,-5.62 h-6.50 z M555.70,45.85 l3.25,-5.62 h-6.50 z M555.89,45.56 l3.25,-5.62 h-6.50 z M556.09,45.27 l3.25,-5.62 h-6.50 z M556.28,44.98 l3.25,-5.62 h-6.50 z M556.48,44.70 l3.25,-5.62 h-6.50 z M556.67,44.42 l3.25,-5.62 h-6.50 z M556.86,44.14 l3.25,-5.62 h-6.50 z M557.06,43.86 l3.25,-5.62 h-6.50 z M557.25,43.58 l3.25,-5.62 h-6.50 z M557.44,43.30 l3.25,-5.62 h-6.50 z M557.63,43.02 l3.25,-5.62 h-6.50 z M557.82,42.75 l3.25,-5.62 h-6.50 z M558.00,42.47 l3.25,-5.62 h-6.50 z M558.19,42.20 l3.25,-5.62 h-6.50 z M558.38,41.92 l3.25,-5.62 h-6.50 z M558.56,41.65 l3.25,-5.62 h-6.50 z M558.75,41.37 l3.25,-5.62 h-6.50 z M558.93,41.10 l3.25,-5.62 h-6.50 z M559.12,40.83 l3.25,-5.62 h-6.50 z M559.30,40.55 l3.25,-5.62 h-6.50 z M559.48,40.27 l3.25,-5.62 h-6.50 z M559.66,40.00 l3.25,-5.62 h-6.50 z M559.85,39.72 l3.25,-5.62 h-6.50 z M560.03,39.44 l3.25,-5.62 h-6.50 z M560.21,39.17 l3.25,-5.62 h-6.50 z M560.39,38.89 l3.25,-5.62 h-6.50 z M560.56,38.60 l3.25,-5.62 h-6.50 z M560.74,38.32 l3.25,-5.62 h-6.50 z M560.92,38.04 l3.25,-5.62 h-6.50 z M561.10,37.75 l3.25,-5.62 h-6.50 z M561.27,37.46 l3.25,-5.62 h-6.50 z" fill="none" stroke="#ff0000" stroke-width="0.7"/>
<polyline points="464.99,162.05 466.63,159.89 468.26,157.73 469.89,155.55 471.52,153.36 473.16,151.17 474.79,148.97 476.42,146.77 478.05,144.57 479.68,142.37 481.32,140.17 482.95,137.99 484.58,135.81 486.21,133.65 487.85,131.50 489.48,129.37 491.11,127.25 492.74,125.14 494.38,123.03 496.01,120.93 497.64,118.84 499.27,116.75 500.90,114.66 502.54,112.58 504.17,110.50 505.80,108.42 507.43,106.34 509.07,104.26 510.70,102.18 512.33,100.10 513.96,98.02 515.60,95.94 517.23,93.86 518.86,91.79 520.49,89.73 522.12,87.66 523.76,85.60 525.39,83.52 527.02,81.44 528.65,79.35 530.29,77.24 531.92,75.12 533.55,72.98 535.18,70.84 536.82,68.69 538.45,66.53 540.08,64.34 541.71,62.13 543.34,59.89 544.98,57.63 546.61,55.33 548.24,53.00 549.87,50.65 551.51,48.27 553.14,45.88 554.77,43.48 556.40,41.07 558.04,38.69 559.67,36.26 561.30,33.68" fill="none" stroke="#ff0000" stroke-width="5" transform="translate(-0.63,-0.45)"/>
<path d="M254.60,345.13 l3.45,-3.45 l3.45,3.45 l-3.45,3.45 z M274.46,340.58 l3.45,-3.45 l3.45,3.45 l-3.45,3.45 z M288.55,336.11 l3.45,-3.45 l3.45,3.45 l-3.45,3.45 z M299.48,331.80 l3.45,-3.45 l3.45,3.45 l-3.45,3.45 z M308.41,327.67 l3.45,-3.45 l3.45,3.45 l-3.45,3.45 z M315.97,323.32 l3.45,-3.45 l3.45,3.45 l-3.45,3.45 z M322.51,318.82 l3.45,-3.45 l3.45,3.45 l-3.45,3.45 z M328.28,314.55 l3.45,-3.45 l3.45,3.45 l-3.45,3.45 z M333.44,310.66 l3.45,-3.45 l3.45,3.45 l-3.45,3.45 z M338.11,307.07 l3.45,-3.45 l3.45,3.45 l-3.45,3.45 z M342.37,303.62 l3.45,-3.45 l3.45,3.45 l-3.45,3.45 z M346.29,300.34 l3.45,-3.45 l3.45,3.45 l-3.45,3.45 z M349.92,297.23 l3.45,-3.45 l3.45,3.45 l-3.45,3.45 z M353.30,294.28 l3.45,-3.45 l3.45,3.45 l-3.45,3.45 z M356.46,291.49 l3.45,-3.45 l3.45,3.45 l-3.45,3.45 z M359.43,288.80 l3.45,-3.45 l3.45,3.45 l-3.45,3.45 z M362.23,286.18 l3.45,-3.45 l3.45,3.45 l-3.45,3.45 z M364.88,283.59 l3.45,-3.45 l3.45,3.45 l-3.45,3.45 z M367.39,281.00 l3.45,-3.45 l3.45,3.45 l-3.45,3.45 z M369.78,278.42 l3.45,-3.45 l3.45,3.45 l-3.45,3.45 z M372.06,275.85 l3.45,-3.45 l3.45,3.45 l-3.45,3.45 z M374.24,273.33 l3.45,-3.45 l3.45,3.45 l-3.45,3.45 z M376.32,270.85 l3.45,-3.45 l3.45,3.45 l-3.45,3.45 z M378.32,268.44 l3.45,-3.45 l3.45,3.45 l-3.45,3.45 z M380.24,266.10 l3.45,-3.45 l3.45,3.45 l-3.45,3.45 z M382.09,263.83 l3.45,-3.45 l3.45,3.45 l-3.45,3.45 z M383.87,261.64 l3.45,-3.45 l3.45,3.45 l-3.45,3.45 z M385.59,259.53 l3.45,-3.45 l3.45,3.45 l-3.45,3.45 z M387.25,257.45 l3.45,-3.45 l3.45,3.45 l-3.45,3.45 z M388.86,255.40 l3.45,-3.45 l3.45,3.45 l-3.45,3.45 z M390.41,253.40 l3.45,-3.45 l3.45,3.45 l-3.45,3.45 z M391.92,251.45 l3.45,-3.45 l3.45,3.45 l-3.45,3.45 z M393.38,249.55 l3.45,-3.45 l3.45,3.45 l-3.45,3.45 z M394.80,247.69 l3.45,-3.45 l3.45,3.45 l-3.45,3.45 z M396.18,245.89 l3.45,-3.45 l3.45,3.45 l-3.45,3.45 z M397.52,244.14 l3.45,-3.45 l3.45,3.45 l-3.45,3.45 z M398.83,242.44 l3.45,-3.45 l3.45,3.45 l-3.45,3.45 z M400.10,240.79 l3.45,-3.45 l3.45,3.45 l-3.45,3.45 z M401.34,239.19 l3.45,-3.45 l3.45,3.45 l-3.45,3.45 z M402.55,237.62 l3.45,-3.45 l3.45,3.45 l-3.45,3.45 z M403.73,236.09 l3.45,-3.45 l3.45,3.45 l-3.45,3.45 z M404.88,234.60 l3.45,-3.45 l3.45,3.45 l-3.45,3.45 z M406.01,233.14 l3.45,-3.45 l3.45,3.45 l-3.45,3.45 z M407.11,231.71 l3.45,-3.45 l3.45,3.45 l-3.45,3.45 z M408.19,230.31 l3.45,-3.45 l3.45,3.45 l-3.45,3.45 z M409.24,228.94 l3.45,-3.45 l3.45,3.45 l-3.45,3.45 z M410.27,227.61 l3.45,-3.45 l3.45,3.45 l-3.45,3.45 z M411.28,226.29 l3.45,-3.45 l3.45,3.45 l-3.45,3.45 z M412.27,225.01 l3.45,-3.45 l3.45,3.45 l-3.45,3.45 z M413.24,223.75 l3.45,-3.45 l3.45,3.45 l-3.45,3.45 z M414.19,222.52 l3.45,-3.45 l3.45,3.45 l-3.45,3.45 z M415.13,221.31 l3.45,-3.45 l3.45,3.45 l-3.45,3.45 z M416.04,220.13 l3.45,-3.45 l3.45,3.45 l-3.45,3.45 z M416.94,218.97 l3.45,-3.45 l3.45,3.45 l-3.45,3.45 z M417.82,217.83 l3.45,-3.45 l3.45,3.45 l-3.45,3.45 z M418.69,216.71 l3.45,-3.45 l3.45,3.45 l-3.45,3.45 z M419.54,215.61 l3.45,-3.45 l3.45,3.45 l-3.45,3.45 z M420.38,214.54 l3.45,-3.45 l3.45,3.45 l-3.45,3.45 z M421.20,213.48 l3.45,-3.45 l3.45,3.45 l-3.45,3.45 z M422.01,212.43 l3.45,-3.45 l3.45,3.45 l-3.45,3.45 z M422.81,211.41 l3.45,-3.45 l3.45,3.45 l-3.45,3.45 z M423.59,210.40 l3.45,-3.45 l3.45,3.45 l-3.45,3.45 z M424.36,209.41 l3.45,-3.45 l3.45,3.45 l-3.45,3.45 z M425.12,208.43 l3.45,-3.45 l3.45,3.45 l-3.45,3.45 z M425.87,207.47 l3.45,-3.45 l3.45,3.45 l-3.45,3.45 z M426.61,206.52 l3.45,-3.45 l3.45,3.45 l-3.45,3.45 z M427.33,205.59 l3.45,-3.45 l3.45,3.45 l-3.45,3.45 z M428.05,204.67 l3.45,-3.45 l3.45,3.45 l-3.45,3.45 z M428.75,203.77 l3.45,-3.45 l3.45,3.45 l-3.45,3.45 z M429.45,202.87 l3.45,-3.45 l3.45,3.45 l-3.45,3.45 z M430.13,202.00 l3.45,-3.45 l3.45,3.45 l-3.45,3.45 z M430.81,201.13 l3.45,-3.45 l3.45,3.45 l-3.45,3.45 z M431.48,200.28 l3.45,-3.45 l3.45,3.45 l-3.45,3.45 z M432.13,199.44 l3.45,-3.45 l3.45,3.45 l-3.45,3.45 z M432.78,198.61 l3.45,-3.45 l3.45,3.45 l-3.45,3.45 z M433.42,197.80 l3.45,-3.45 l3.45,3.45 l-3.45,3.45 z M434.05,197.00 l3.45,-3.45 l3.45,3.45 l-3.45,3.45 z M434.68,196.20 l3.45,-3.45 l3.45,3.45 l-3.45,3.45 z M435.29,195.42 l3.45,-3.45 l3.45,3.45 l-3.45,3.45 z M435.90,194.65 l3.45,-3.45 l3.45,3.45 l-3.45,3.45 z M436.50,193.89 l3.45,-3.45 l3.45,3.45 l-3.45,3.45 z M437.10,193.14 l3.45,-3.45 l3.45,3.45 l-3.45,3.45 z M437.68,192.41 l3.45,-3.45 l3.45,3.45 l-3.45,3.45 z M438.26,191.68 l3.45,-3.45 l3.45,3.45 l-3.45,3.45 z M438.84,190.96 l3.45,-3.45 l3.45,3.45 l-3.45,3.45 z M439.40,190.25 l3.45,-3.45 l3.45,3.45 l-3.45,3.45 z M439.96,189.55 l3.45,-3.45 l3.45,3.45 l-3.45,3.45 z M440.52,188.87 l3.45,-3.45 l3.45,3.45 l-3.45,3.45 z M441.06,188.19 l3.45,-3.45 l3.45,3.45 l-3.45,3.45 z M441.60,187.52 l3.45,-3.45 l3.45,3.45 l-3.45,3.45 z M442.14,186.86 l3.45,-3.45 l3.45,3.45 l-3.45,3.45 z M442.67,186.21 l3.45,-3.45 l3.45,3.45 l-3.45,3.45 z M443.19,185.57 l3.45,-3.45 l3.45,3.45 l-3.45,3.45 z M443.71,184.94 l3.45,-3.45 l3.45,3.45 l-3.45,3.45 z M444.22,184.31 l3.45,-3.45 l3.45,3.45 l-3.45,3.45 z M444.73,183.70 l3.45,-3.45 l3.45,3.45 l-3.45,3.45 z M445.23,183.09 l3.45,-3.45 l3.45,3.45 l-3.45,3.45 z M445.73,182.48 l3.45,-3.45 l3.45,3.45 l-3.45,3.45 z M446.22,181.88 l3.45,-3.45 l3.45,3.45 l-3.45,3.45 z M446.71,181.29 l3.45,-3.45 l3.45,3.45 l-3.45,3.45 z M447.19,180.71 l3.45,-3.45 l3.45,3.45 l-3.45,3.45 z M447.67,180.13 l3.45,-3.45 l3.45,3.45 l-3.45,3.45 z M448.15,179.55 l3.45,-3.45 l3.45,3.45 l-3.45,3.45 z M448.61,178.99 l3.45,-3.45 l3.45,3.45 l-3.45,3.45 z M449.08,178.42 l3.45,-3.45 l3.45,3.45 l-3.45,3.45 z M449.54,177.86 l3.45,-3.45 l3.45,3.45 l-3.45,3.45 z M449.99,177.31 l3.45,-3.45 l3.45,3.45 l-3.45,3.45 z M450.45,176.76 l3.45,-3.45 l3.45,3.45 l-3.45,3.45 z M450.89,176.22 l3.45,-3.45 l3.45,3.45 l-3.45,3.45 z M451.34,175.67 l3.45,-3.45 l3.45,3.45 l-3.45,3.45 z M451.78,175.14 l3.45,-3.45 l3.45,3.45 l-3.45,3.45 z M452.21,174.60 l3.45,-3.45 l3.45,3.45 l-3.45,3.45 z M452.64,174.08 l3.45,-3.45 l3.45,3.45 l-3.45,3.45 z M453.07,173.55 l3.45,-3.45 l3.45,3.45 l-3.45,3.45 z M453.49,173.03 l3.45,-3.45 l3.45,3.45 l-3.45,3.45 z M453.91,172.51 l3.45,-3.45 l3.45,3.45 l-3.45,3.45 z M454.33,171.99 l3.45,-3.45 l3.45,3.45 l-3.45,3.45 z M454.74,171.48 l3.45,-3.45 l3.45,3.45 l-3.45,3.45 z M455.15,170.97 l3.45,-3.45 l3.45,3.45 l-3.45,3.45 z M455.56,170.46 l3.45,-3.45 l3.45,3.45 l-3.45,3.45 z M455.96,169.96 l3.45,-3.45 l3.45,3.45 l-3.45,3.45 z M456.36,169.45 l3.45,-3.45 l3.45,3.45 l-3.45,3.45 z M456.76,168.95 l3.45,-3.45 l3.45,3.45 l-3.45,3.45 z M457.15,168.46 l3.45,-3.45 l3.45,3.45 l-3.45,3.45 z M457.54,167.96 l3.45,-3.45 l3.45,3.45 l-3.45,3.45 z M457.93,167.47 l3.45,-3.45 l3.45,3.45 l-3.45,3.45 z M458.32,166.98 l3.45,-3.45 l3.45,3.45 l-3.45,3.45 z M458.70,166.49 l3.45,-3.45 l3.45,3.45 l-3.45,3.45 z M459.08,166.01 l3.45,-3.45 l3.45,3.45 l-3.45,3.45 z M459.45,165.53 l3.45,-3.45 l3.45,3.45 l-3.45,3.45 z M459.82,165.05 l3.45,-3.45 l3.45,3.45 l-3.45,3.45 z M460.19,164.57 l3.45,-3.45 l3.45,3.45 l-3.45,3.45 z M460.56,164.10 l3.45,-3.45 l3.45,3.45 l-3.45,3.45 z M460.92,163.63 l3.45,-3.45 l3.45,3.45 l-3.45,3.45 z M461.29,163.16 l3.45,-3.45 l3.45,3.45 l-3.45,3.45 z M461.64,162.70 l3.45,-3.45 l3.45,3.45 l-3.45,3.45 z M462.00,162.23 l3.45,-3.45 l3.45,3.45 l-3.45,3.45 z M462.35,161.77 l3.45,-3.45 l3.45,3.45 l-3.45,3.45 z M462.71,161.31 l3.45,-3.45 l3.45,3.45 l-3.45,3.45 z M463.05,160.86 l3.45,-3.45 l3.45,3.45 l-3.45,3.45 z M463.40,160.41 l3.45,-3.45 l3.45,3.45 l-3.45,3.45 z M463.74,159.96 l3.45,-3.45 l3.45,3.45 l-3.45,3.45 z M464.09,159.51 l3.45,-3.45 l3.45,3.45 l-3.45,3.45 z M464.42,159.07 l3.45,-3.45 l3.45,3.45 l-3.45,3.45 z M464.76,158.62 l3.45,-3.45 l3.45,3.45 l-3.45,3.45 z M465.10,158.18 l3.45,-3.45 l3.45,3.45 l-3.45,3.45 z M465.43,157.75 l3.45,-3.45 l3.45,3.45 l-3.45,3.45 z M465.76,157.31 l3.45,-3.45 l3.45,3.45 l-3.45,3.45 z M466.09,156.88 l3.45,-3.45 l3.45,3.45 l-3.45,3.45 z M466.41,156.45 l3.45,-3.45 l3.45,3.45 l-3.45,3.45 z M466.73,156.02 l3.45,-3.45 l3.45,3.45 l-3.45,3.45 z M467.06,155.60 l3.45,-3.45 l3.45,3.45 l-3.45,3.45 z M467.37,155.18 l3.45,-3.45 l3.45,3.45 l-3.45,3.45 z M467.69,154.76 l3.45,-3.45 l3.45,3.45 l-3.45,3.45 z M468.01,154.34 l3.45,-3.45 l3.45,3.45 l-3.45,3.45 z M468.32,153.93 l3.45,-3.45 l3.45,3.45 l-3.45,3.45 z M468.63,153.52 l3.45,-3.45 l3.45,3.45 l-3.45,3.45 z M468.94,153.11 l3.45,-3.45 l3.45,3.45 l-3.45,3.45 z M469.25,152.70 l3.45,-3.45 l3.45,3.45 l-3.45,3.45 z M469.55,152.29 l3.45,-3.45 l3.45,3.45 l-3.45,3.45 z M469.85,151.89 l3.45,-3.45 l3.45,3.45 l-3.45,3.45 z M470.16,151.49 l3.45,-3.45 l3.45,3.45 l-3.45,3.45 z M470.46,151.09 l3.45,-3.45 l3.45,3.45 l-3.45,3.45 z M470.75,150.70 l3.45,-3.45 l3.45,3.45 l-3.45,3.45 z M471.05,150.30 l3.45,-3.45 l3.45,3.45 l-3.45,3.45 z M471.34,149.91 l3.45,-3.45 l3.45,3.45 l-3.45,3.45 z M471.64,149.52 l3.45,-3.45 l3.45,3.45 l-3.45,3.45 z M471.93,149.14 l3.45,-3.45 l3.45,3.45 l-3.45,3.45 z M472.22,148.75 l3.45,-3.45 l3.45,3.45 l-3.45,3.45 z M472.50,148.37 l3.45,-3.45 l3.45,3.45 l-3.45,3.45 z M472.79,147.99 l3.45,-3.45 l3.45,3.45 l-3.45,3.45 z M473.07,147.62 l3.45,-3.45 l3.45,3.45 l-3.45,3.45 z M473.36,147.24 l3.45,-3.45 l3.45,3.45 l-3.45,3.45 z M473.64,146.87 l3.45,-3.45 l3.45,3.45 l-3.45,3.45 z M473.91,146.50 l3.45,-3.45 l3.45,3.45 l-3.45,3.45 z M474.19,146.13 l3.45,-3.45 l3.45,3.45 l-3.45,3.45 z M474.47,145.76 l3.45,-3.45 l3.45,3.45 l-3.45,3.45 z M474.74,145.40 l3.45,-3.45 l3.45,3.45 l-3.45,3.45 z M475.02,145.04 l3.45,-3.45 l3.45,3.45 l-3.45,3.45 z M475.29,144.68 l3.45,-3.45 l3.45,3.45 l-3.45,3.45 z M475.56,144.32 l3.45,-3.45 l3.45,3.45 l-3.45,3.45 z M475.83,143.96 l3.45,-3.45 l3.45,3.45 l-3.45,3.45 z M476.09,143.61 l3.45,-3.45 l3.45,3.45 l-3.45,3.45 z M476.36,143.26 l3.45,-3.45 l3.45,3.45 l-3.45,3.45 z M476.62,142.91 l3.45,-3.45 l3.45,3.45 l-3.45,3.45 z M476.88,142.56 l3.45,-3.45 l3.45,3.45 l-3.45,3.45 z M477.15,142.22 l3.45,-3.45 l3.45,3.45 l-3.45,3.45 z M477.41,141.87 l3.45,-3.45 l3.45,3.45 l-3.45,3.45 z M477.66,141.53 l3.45,-3.45 l3.45,3.45 l-3.45,3.45 z M477.92,141.19 l3.45,-3.45 l3.45,3.45 l-3.45,3.45 z M478.18,140.85 l3.45,-3.45 l3.45,3.45 l-3.45,3.45 z M478.43,140.52 l3.45,-3.45 l3.45,3.45 l-3.45,3.45 z M478.68,140.19 l3.45,-3.45 l3.45,3.45 l-3.45,3.45 z M478.94,139.85 l3.45,-3.45 l3.45,3.45 l-3.45,3.45 z M479.19,139.52 l3.45,-3.45 l3.45,3.45 l-3.45,3.45 z M479.44,139.20 l3.45,-3.45 l3.45,3.45 l-3.45,3.45 z M479.68,138.87 l3.45,-3.45 l3.45,3.45 l-3.45,3.45 z M479.93,138.55 l3.45,-3.45 l3.45,3.45 l-3.45,3.45 z M480.18,138.23 l3.45,-3.45 l3.45,3.45 l-3.45,3.45 z M480.42,137.91 l3.45,-3.45 l3.45,3.45 l-3.45,3.45 z M480.66,137.59 l3.45,-3.45 l3.45,3.45 l-3.45,3.45 z M480.91,137.27 l3.45,-3.45 l3.45,3.45 l-3.45,3.45 z M481.15,136.96 l3.45,-3.45 l3.45,3.45 l-3.45,3.45 z M481.39,136.64 l3.45,-3.45 l3.45,3.45 l-3.45,3.45 z M481.62,136.33 l3.45,-3.45 l3.45,3.45 l-3.45,3.45 z M481.86,136.03 l3.45,-3.45 l3.45,3.45 l-3.45,3.45 z M482.10,135.72 l3.45,-3.45 l3.45,3.45 l-3.45,3.45 z M482.33,135.41 l3.45,-3.45 l3.45,3.45 l-3.45,3.45 z M482.57,135.11 l3.45,-3.45 l3.45,3.45 l-3.45,3.45 z M482.80,134.81 l3.45,-3.45 l3.45,3.45 l-3.45,3.45 z M483.03,134.51 l3.45,-3.45 l3.45,3.45 l-3.45,3.45 z M483.26,134.21 l3.45,-3.45 l3.45,3.45 l-3.45,3.45 z M483.49,133.91 l3.45,-3.45 l3.45,3.45 l-3.45,3.45 z M483.72,133.62 l3.45,-3.45 l3.45,3.45 l-3.45,3.45 z M483.95,133.32 l3.45,-3.45 l3.45,3.45 l-3.45,3.45 z M484.17,133.03 l3.45,-3.45 l3.45,3.45 l-3.45,3.45 z M484.40,132.74 l3.45,-3.45 l3.45,3.45 l-3.45,3.45 z M484.62,132.46 l3.45,-3.45 l3.45,3.45 l-3.45,3.45 z M484.85,132.17 l3.45,-3.45 l3.45,3.45 l-3.45,3.45 z M485.07,131.88 l3.45,-3.45 l3.45,3.45 l-3.45,3.45 z M485.29,131.60 l3.45,-3.45 l3.45,3.45 l-3.45,3.45 z M485.51,131.32 l3.45,-3.45 l3.45,3.45 l-3.45,3.45 z M485.73,131.04 l3.45,-3.45 l3.45,3.45 l-3.45,3.45 z M485.95,130.76 l3.45,-3.45 l3.45,3.45 l-3.45,3.45 z M486.16,130.49 l3.45,-3.45 l3.45,3.45 l-3.45,3.45 z M486.38,130.21 l3.45,-3.45 l3.45,3.45 l-3.45,3.45 z M486.59,129.94 l3.45,-3.45 l3.45,3.45 l-3.45,3.45 z M486.81,129.66 l3.45,-3.45 l3.45,3.45 l-3.45,3.45 z M487.02,129.39 l3.45,-3.45 l3.45,3.45 l-3.45,3.45 z M487.24,129.12 l3.45,-3.45 l3.45,3.45 l-3.45,3.45 z M487.45,128.85 l3.45,-3.45 l3.45,3.45 l-3.45,3.45 z M487.66,128.58 l3.45,-3.45 l3.45,3.45 l-3.45,3.45 z M487.87,128.32 l3.45,-3.45 l3.45,3.45 l-3.45,3.45 z M488.08,128.05 l3.45,-3.45 l3.45,3.45 l-3.45,3.45 z M488.28,127.79 l3.45,-3.45 l3.45,3.45 l-3.45,3.45 z M488.49,127.53 l3.45,-3.45 l3.45,3.45 l-3.45,3.45 z M488.70,127.27 l3.45,-3.45 l3.45,3.45 l-3.45,3.45 z M488.90,127.01 l3.45,-3.45 l3.45,3.45 l-3.45,3.45 z M489.11,126.75 l3.45,-3.45 l3.45,3.45 l-3.45,3.45 z M489.31,126.49 l3.45,-3.45 l3.45,3.45 l-3.45,3.45 z M489.51,126.23 l3.45,-3.45 l3.45,3.45 l-3.45,3.45 z M489.72,125.98 l3.45,-3.45 l3.45,3.45 l-3.45,3.45 z M489.92,125.73 l3.45,-3.45 l3.45,3.45 l-3.45,3.45 z M490.12,125.47 l3.45,-3.45 l3.45,3.45 l-3.45,3.45 z M490.32,125.22 l3.45,-3.45 l3.45,3.45 l-3.45,3.45 z M490.71,124.72 l3.45,-3.45 l3.45,3.45 l-3.45,3.45 z M491.11,124.23 l3.45,-3.45 l3.45,3.45 l-3.45,3.45 z M491.50,123.73 l3.45,-3.45 l3.45,3.45 l-3.45,3.45 z M491.88,123.25 l3.45,-3.45 l3.45,3.45 l-3.45,3.45 z M492.27,122.77 l3.45,-3.45 l3.45,3.45 l-3.45,3.45 z M492.65,122.29 l3.45,-3.45 l3.45,3.45 l-3.45,3.45 z M493.03,121.81 l3.45,-3.45 l3.45,3.45 l-3.45,3.45 z M493.40,121.34 l3.45,-3.45 l3.45,3.45 l-3.45,3.45 z M493.78,120.88 l3.45,-3.45 l3.45,3.45 l-3.45,3.45 z M494.15,120.41 l3.45,-3.45 l3.45,3.45 l-3.45,3.45 z M494.51,119.96 l3.45,-3.45 l3.45,3.45 l-3.45,3.45 z M494.88,119.50 l3.45,-3.45 l3.45,3.45 l-3.45,3.45 z M495.24,119.05 l3.45,-3.45 l3.45,3.45 l-3.45,3.45 z M495.60,118.60 l3.45,-3.45 l3.45,3.45 l-3.45,3.45 z M495.95,118.16 l3.45,-3.45 l3.45,3.45 l-3.45,3.45 z M496.31,117.72 l3.45,-3.45 l3.45,3.45 l-3.45,3.45 z M496.66,117.28 l3.45,-3.45 l3.45,3.45 l-3.45,3.45 z M497.01,116.84 l3.45,-3.45 l3.45,3.45 l-3.45,3.45 z M497.35,116.41 l3.45,-3.45 l3.45,3.45 l-3.45,3.45 z M497.70,115.99 l3.45,-3.45 l3.45,3.45 l-3.45,3.45 z M498.04,115.56 l3.45,-3.45 l3.45,3.45 l-3.45,3.45 z M498.38,115.14 l3.45,-3.45 l3.45,3.45 l-3.45,3.45 z M498.71,114.72 l3.45,-3.45 l3.45,3.45 l-3.45,3.45 z M499.05,114.31 l3.45,-3.45 l3.45,3.45 l-3.45,3.45 z M499.38,113.90 l3.45,-3.45 l3.45,3.45 l-3.45,3.45 z M499.71,113.49 l3.45,-3.45 l3.45,3.45 l-3.45,3.45 z M500.04,113.08 l3.45,-3.45 l3.45,3.45 l-3.45,3.45 z M500.36,112.68 l3.45,-3.45 l3.45,3.45 l-3.45,3.45 z M500.69,112.28 l3.45,-3.45 l3.45,3.45 l-3.45,3.45 z M501.01,111.88 l3.45,-3.45 l3.45,3.45 l-3.45,3.45 z M501.33,111.48 l3.45,-3.45 l3.45,3.45 l-3.45,3.45 z M501.64,111.09 l3.45,-3.45 l3.45,3.45 l-3.45,3.45 z M501.96,110.70 l3.45,-3.45 l3.45,3.45 l-3.45,3.45 z M502.27,110.31 l3.45,-3.45 l3.45,3.45 l-3.45,3.45 z M502.58,109.93 l3.45,-3.45 l3.45,3.45 l-3.45,3.45 z M502.89,109.55 l3.45,-3.45 l3.45,3.45 l-3.45,3.45 z M503.20,109.17 l3.45,-3.45 l3.45,3.45 l-3.45,3.45 z M503.50,108.79 l3.45,-3.45 l3.45,3.45 l-3.45,3.45 z M503.81,108.42 l3.45,-3.45 l3.45,3.45 l-3.45,3.45 z M504.11,108.04 l3.45,-3.45 l3.45,3.45 l-3.45,3.45 z M504.41,107.67 l3.45,-3.45 l3.45,3.45 l-3.45,3.45 z M504.71,107.31 l3.45,-3.45 l3.45,3.45 l-3.45,3.45 z M505.00,106.94 l3.45,-3.45 l3.45,3.45 l-3.45,3.45 z M505.30,106.58 l3.45,-3.45 l3.45,3.45 l-3.45,3.45 z M505.59,106.22 l3.45,-3.45 l3.45,3.45 l-3.45,3.45 z M505.88,105.86 l3.45,-3.45 l3.45,3.45 l-3.45,3.45 z M506.17,105.50 l3.45,-3.45 l3.45,3.45 l-3.45,3.45 z M506.46,105.15 l3.45,-3.45 l3.45,3.45 l-3.45,3.45 z M506.74,104.79 l3.45,-3.45 l3.45,3.45 l-3.45,3.45 z M507.03,104.44 l3.45,-3.45 l3.45,3.45 l-3.45,3.45 z M507.31,104.10 l3.45,-3.45 l3.45,3.45 l-3.45,3.45 z M507.59,103.75 l3.45,-3.45 l3.45,3.45 l-3.45,3.45 z M507.87,103.41 l3.45,-3.45 l3.45,3.45 l-3.45,3.45 z M508.14,103.06 l3.45,-3.45 l3.45,3.45 l-3.45,3.45 z M508.42,102.72 l3.45,-3.45 l3.45,3.45 l-3.45,3.45 z M508.70,102.38 l3.45,-3.45 l3.45,3.45 l-3.45,3.45 z M508.97,102.05 l3.45,-3.45 l3.45,3.45 l-3.45,3.45 z M509.24,101.71 l3.45,-3.45 l3.45,3.45 l-3.45,3.45 z M509.51,101.38 l3.45,-3.45 l3.45,3.45 l-3.45,3.45 z M509.78,101.05 l3.45,-3.45 l3.45,3.45 l-3.45,3.45 z M510.04,100.72 l3.45,-3.45 l3.45,3.45 l-3.45,3.45 z M510.31,100.39 l3.45,-3.45 l3.45,3.45 l-3.45,3.45 z M510.57,100.07 l3.45,-3.45 l3.45,3.45 l-3.45,3.45 z M510.84,99.74 l3.45,-3.45 l3.45,3.45 l-3.45,3.45 z M511.10,99.42 l3.45,-3.45 l3.45,3.45 l-3.45,3.45 z M511.36,99.10 l3.45,-3.45 l3.45,3.45 l-3.45,3.45 z M511.62,98.78 l3.45,-3.45 l3.45,3.45 l-3.45,3.45 z M511.87,98.47 l3.45,-3.45 l3.45,3.45 l-3.45,3.45 z M512.13,98.15 l3.45,-3.45 l3.45,3.45 l-3.45,3.45 z M512.38,97.84 l3.45,-3.45 l3.45,3.45 l-3.45,3.45 z M512.64,97.53 l3.45,-3.45 l3.45,3.45 l-3.45,3.45 z M512.89,97.22 l3.45,-3.45 l3.45,3.45 l-3.45,3.45 z M513.14,96.91 l3.45,-3.45 l3.45,3.45 l-3.45,3.45 z M513.39,96.61 l3.45,-3.45 l3.45,3.45 l-3.45,3.45 z M513.64,96.30 l3.45,-3.45 l3.45,3.45 l-3.45,3.45 z M513.88,96.00 l3.45,-3.45 l3.45,3.45 l-3.45,3.45 z M514.13,95.70 l3.45,-3.45 l3.45,3.45 l-3.45,3.45 z M514.37,95.40 l3.45,-3.45 l3.45,3.45 l-3.45,3.45 z M514.62,95.11 l3.45,-3.45 l3.45,3.45 l-3.45,3.45 z M514.86,94.81 l3.45,-3.45 l3.45,3.45 l-3.45,3.45 z M515.10,94.52 l3.45,-3.45 l3.45,3.45 l-3.45,3.45 z M515.34,94.23 l3.45,-3.45 l3.45,3.45 l-3.45,3.45 z M515.58,93.94 l3.45,-3.45 l3.45,3.45 l-3.45,3.45 z M515.81,93.65 l3.45,-3.45 l3.45,3.45 l-3.45,3.45 z M516.05,93.36 l3.45,-3.45 l3.45,3.45 l-3.45,3.45 z M516.29,93.07 l3.45,-3.45 l3.45,3.45 l-3.45,3.45 z M516.52,92.79 l3.45,-3.45 l3.45,3.45 l-3.45,3.45 z M516.75,92.51 l3.45,-3.45 l3.45,3.45 l-3.45,3.45 z M516.98,92.22 l3.45,-3.45 l3.45,3.45 l-3.45,3.45 z M517.21,91.94 l3.45,-3.45 l3.45,3.45 l-3.45,3.45 z M517.44,91.67 l3.45,-3.45 l3.45,3.45 l-3.45,3.45 z M517.67,91.39 l3.45,-3.45 l3.45,3.45 l-3.45,3.45 z M517.90,91.11 l3.45,-3.45 l3.45,3.45 l-3.45,3.45 z M518.13,90.84 l3.45,-3.45 l3.45,3.45 l-3.45,3.45 z M518.35,90.56 l3.45,-3.45 l3.45,3.45 l-3.45,3.45 z M518.57,90.29 l3.45,-3.45 l3.45,3.45 l-3.45,3.45 z M518.80,90.02 l3.45,-3.45 l3.45,3.45 l-3.45,3.45 z M519.02,89.75 l3.45,-3.45 l3.45,3.45 l-3.45,3.45 z M519.24,89.48 l3.45,-3.45 l3.45,3.45 l-3.45,3.45 z M519.46,89.21 l3.45,-3.45 l3.45,3.45 l-3.45,3.45 z M519.68,88.95 l3.45,-3.45 l3.45,3.45 l-3.45,3.45 z M519.90,88.68 l3.45,-3.45 l3.45,3.45 l-3.45,3.45 z M520.12,88.42 l3.45,-3.45 l3.45,3.45 l-3.45,3.45 z M520.33,88.16 l3.45,-3.45 l3.45,3.45 l-3.45,3.45 z M520.55,87.90 l3.45,-3.45 l3.45,3.45 l-3.45,3.45 z M520.76,87.63 l3.45,-3.45 l3.45,3.45 l-3.45,3.45 z M520.98,87.38 l3.45,-3.45 l3.45,3.45 l-3.45,3.45 z M521.19,87.12 l3.45,-3.45 l3.45,3.45 l-3.45,3.45 z M521.40,86.86 l3.45,-3.45 l3.45,3.45 l-3.45,3.45 z M521.61,86.60 l3.45,-3.45 l3.45,3.45 l-3.45,3.45 z M521.82,86.35 l3.45,-3.45 l3.45,3.45 l-3.45,3.45 z M522.03,86.09 l3.45,-3.45 l3.45,3.45 l-3.45,3.45 z M522.24,85.84 l3.45,-3.45 l3.45,3.45 l-3.45,3.45 z M522.44,85.59 l3.45,-3.45 l3.45,3.45 l-3.45,3.45 z M522.65,85.34 l3.45,-3.45 l3.45,3.45 l-3.45,3.45 z M522.86,85.09 l3.45,-3.45 l3.45,3.45 l-3.45,3.45 z M523.06,84.84 l3.45,-3.45 l3.45,3.45 l-3.45,3.45 z M523.26,84.59 l3.45,-3.45 l3.45,3.45 l-3.45,3.45 z M523.47,84.34 l3.45,-3.45 l3.45,3.45 l-3.45,3.45 z M523.77,83.97 l3.45,-3.45 l3.45,3.45 l-3.45,3.45 z M524.07,83.60 l3.45,-3.45 l3.45,3.45 l-3.45,3.45 z M524.37,83.24 l3.45,-3.45 l3.45,3.45 l-3.45,3.45 z M524.67,82.87 l3.45,-3.45 l3.45,3.45 l-3.45,3.45 z M524.96,82.51 l3.45,-3.45 l3.45,3.45 l-3.45,3.45 z M525.25,82.15 l3.45,-3.45 l3.45,3.45 l-3.45,3.45 z M525.55,81.79 l3.45,-3.45 l3.45,3.45 l-3.45,3.45 z M525.84,81.44 l3.45,-3.45 l3.45,3.45 l-3.45,3.45 z M526.13,81.08 l3.45,-3.45 l3.45,3.45 l-3.45,3.45 z M526.41,80.73 l3.45,-3.45 l3.45,3.45 l-3.45,3.45 z M526.70,80.38 l3.45,-3.45 l3.45,3.45 l-3.45,3.45 z M526.98,80.03 l3.45,-3.45 l3.45,3.45 l-3.45,3.45 z M527.26,79.68 l3.45,-3.45 l3.45,3.45 l-3.45,3.45 z M527.54,79.33 l3.45,-3.45 l3.45,3.45 l-3.45,3.45 z M527.82,78.98 l3.45,-3.45 l3.45,3.45 l-3.45,3.45 z M528.10,78.64 l3.45,-3.45 l3.45,3.45 l-3.45,3.45 z M528.37,78.30 l3.45,-3.45 l3.45,3.45 l-3.45,3.45 z M528.65,77.96 l3.45,-3.45 l3.45,3.45 l-3.45,3.45 z M528.92,77.62 l3.45,-3.45 l3.45,3.45 l-3.45,3.45 z M529.19,77.28 l3.45,-3.45 l3.45,3.45 l-3.45,3.45 z M529.46,76.95 l3.45,-3.45 l3.45,3.45 l-3.45,3.45 z M529.73,76.61 l3.45,-3.45 l3.45,3.45 l-3.45,3.45 z M529.99,76.28 l3.45,-3.45 l3.45,3.45 l-3.45,3.45 z M530.26,75.95 l3.45,-3.45 l3.45,3.45 l-3.45,3.45 z M530.52,75.62 l3.45,-3.45 l3.45,3.45 l-3.45,3.45 z M530.79,75.30 l3.45,-3.45 l3.45,3.45 l-3.45,3.45 z M531.05,74.97 l3.45,-3.45 l3.45,3.45 l-3.45,3.45 z M531.31,74.65 l3.45,-3.45 l3.45,3.45 l-3.45,3.45 z M531.56,74.33 l3.45,-3.45 l3.45,3.45 l-3.45,3.45 z M531.82,74.01 l3.45,-3.45 l3.45,3.45 l-3.45,3.45 z M532.08,73.69 l3.45,-3.45 l3.45,3.45 l-3.45,3.45 z M532.33,73.37 l3.45,-3.45 l3.45,3.45 l-3.45,3.45 z M532.58,73.06 l3.45,-3.45 l3.45,3.45 l-3.45,3.45 z M532.83,72.74 l3.45,-3.45 l3.45,3.45 l-3.45,3.45 z M533.08,72.43 l3.45,-3.45 l3.45,3.45 l-3.45,3.45 z M533.33,72.12 l3.45,-3.45 l3.45,3.45 l-3.45,3.45 z M533.58,71.81 l3.45,-3.45 l3.45,3.45 l-3.45,3.45 z M533.83,71.50 l3.45,-3.45 l3.45,3.45 l-3.45,3.45 z M534.07,71.19 l3.45,-3.45 l3.45,3.45 l-3.45,3.45 z M534.32,70.88 l3.45,-3.45 l3.45,3.45 l-3.45,3.45 z M534.56,70.58 l3.45,-3.45 l3.45,3.45 l-3.45,3.45 z M534.80,70.27 l3.45,-3.45 l3.45,3.45 l-3.45,3.45 z M535.04,69.97 l3.45,-3.45 l3.45,3.45 l-3.45,3.45 z M535.28,69.67 l3.45,-3.45 l3.45,3.45 l-3.45,3.45 z M535.52,69.37 l3.45,-3.45 l3.45,3.45 l-3.45,3.45 z M535.75,69.07 l3.45,-3.45 l3.45,3.45 l-3.45,3.45 z M535.99,68.77 l3.45,-3.45 l3.45,3.45 l-3.45,3.45 z M536.22,68.47 l3.45,-3.45 l3.45,3.45 l-3.45,3.45 z M536.46,68.18 l3.45,-3.45 l3.45,3.45 l-3.45,3.45 z M536.69,67.88 l3.45,-3.45 l3.45,3.45 l-3.45,3.45 z M536.92,67.59 l3.45,-3.45 l3.45,3.45 l-3.45,3.45 z M537.15,67.29 l3.45,-3.45 l3.45,3.45 l-3.45,3.45 z M537.38,67.00 l3.45,-3.45 l3.45,3.45 l-3.45,3.45 z M537.61,66.71 l3.45,-3.45 l3.45,3.45 l-3.45,3.45 z M537.84,66.42 l3.45,-3.45 l3.45,3.45 l-3.45,3.45 z M538.06,66.13 l3.45,-3.45 l3.45,3.45 l-3.45,3.45 z M538.29,65.84 l3.45,-3.45 l3.45,3.45 l-3.45,3.45 z M538.51,65.55 l3.45,-3.45 l3.45,3.45 l-3.45,3.45 z M538.73,65.26 l3.45,-3.45 l3.45,3.45 l-3.45,3.45 z M538.95,64.98 l3.45,-3.45 l3.45,3.45 l-3.45,3.45 z M539.18,64.69 l3.45,-3.45 l3.45,3.45 l-3.45,3.45 z M539.40,64.41 l3.45,-3.45 l3.45,3.45 l-3.45,3.45 z M539.61,64.12 l3.45,-3.45 l3.45,3.45 l-3.45,3.45 z M539.83,63.84 l3.45,-3.45 l3.45,3.45 l-3.45,3.45 z M540.05,63.56 l3.45,-3.45 l3.45,3.45 l-3.45,3.45 z M540.26,63.28 l3.45,-3.45 l3.45,3.45 l-3.45,3.45 z M540.48,63.00 l3.45,-3.45 l3.45,3.45 l-3.45,3.45 z M540.69,62.72 l3.45,-3.45 l3.45,3.45 l-3.45,3.45 z M540.91,62.44 l3.45,-3.45 l3.45,3.45 l-3.45,3.45 z M541.12,62.16 l3.45,-3.45 l3.45,3.45 l-3.45,3.45 z M541.33,61.88 l3.45,-3.45 l3.45,3.45 l-3.45,3.45 z M541.54,61.60 l3.45,-3.45 l3.45,3.45 l-3.45,3.45 z M541.75,61.33 l3.45,-3.45 l3.45,3.45 l-3.45,3.45 z M541.96,61.05 l3.45,-3.45 l3.45,3.45 l-3.45,3.45 z M542.17,60.78 l3.45,-3.45 l3.45,3.45 l-3.45,3.45 z M542.37,60.50 l3.45,-3.45 l3.45,3.45 l-3.45,3.45 z M542.58,60.23 l3.45,-3.45 l3.45,3.45 l-3.45,3.45 z M542.78,59.96 l3.45,-3.45 l3.45,3.45 l-3.45,3.45 z M542.99,59.68 l3.45,-3.45 l3.45,3.45 l-3.45,3.45 z M543.19,59.41 l3.45,-3.45 l3.45,3.45 l-3.45,3.45 z M543.39,59.14 l3.45,-3.45 l3.45,3.45 l-3.45,3.45 z M543.60,58.87 l3.45,-3.45 l3.45,3.45 l-3.45,3.45 z M543.80,58.60 l3.45,-3.45 l3.45,3.45 l-3.45,3.45 z M544.00,58.34 l3.45,-3.45 l3.45,3.45 l-3.45,3.45 z M544.20,58.07 l3.45,-3.45 l3.45,3.45 l-3.45,3.45 z M544.39,57.80 l3.45,-3.45 l3.45,3.45 l-3.45,3.45 z M544.59,57.54 l3.45,-3.45 l3.45,3.45 l-3.45,3.45 z M544.79,57.27 l3.45,-3.45 l3.45,3.45 l-3.45,3.45 z M544.99,57.01 l3.45,-3.45 l3.45,3.45 l-3.45,3.45 z M545.18,56.74 l3.45,-3.45 l3.45,3.45 l-3.45,3.45 z M545.38,56.48 l3.45,-3.45 l3.45,3.45 l-3.45,3.45 z M545.57,56.22 l3.45,-3.45 l3.45,3.45 l-3.45,3.45 z M545.76,55.96 l3.45,-3.45 l3.45,3.45 l-3.45,3.45 z M545.95,55.70 l3.45,-3.45 l3.45,3.45 l-3.45,3.45 z M546.15,55.44 l3.45,-3.45 l3.45,3.45 l-3.45,3.45 z M546.34,55.18 l3.45,-3.45 l3.45,3.45 l-3.45,3.45 z M546.53,54.92 l3.45,-3.45 l3.45,3.45 l-3.45,3.45 z M546.78,54.58 l3.45,-3.45 l3.45,3.45 l-3.45,3.45 z M547.03,54.24 l3.45,-3.45 l3.45,3.45 l-3.45,3.45 z M547.28,53.90 l3.45,-3.45 l3.45,3.45 l-3.45,3.45 z M547.53,53.56 l3.45,-3.45 l3.45,3.45 l-3.45,3.45 z M547.77,53.22 l3.45,-3.45 l3.45,3.45 l-3.45,3.45 z M548.02,52.89 l3.45,-3.45 l3.45,3.45 l-3.45,3.45 z M548.26,52.55 l3.45,-3.45 l3.45,3.45 l-3.45,3.45 z M548.51,52.22 l3.45,-3.45 l3.45,3.45 l-3.45,3.45 z M548.75,51.89 l3.45,-3.45 l3.45,3.45 l-3.45,3.45 z M548.99,51.56 l3.45,-3.45 l3.45,3.45 l-3.45,3.45 z M549.23,51.23 l3.45,-3.45 l3.45,3.45 l-3.45,3.45 z M549.47,50.91 l3.45,-3.45 l3.45,3.45 l-3.45,3.45 z M549.71,50.58 l3.45,-3.45 l3.45,3.45 l-3.45,3.45 z M549.94,50.25 l3.45,-3.45 l3.45,3.45 l-3.45,3.45 z M550.18,49.93 l3.45,-3.45 l3.45,3.45 l-3.45,3.45 z M550.41,49.61 l3.45,-3.45 l3.45,3.45 l-3.45,3.45 z M550.65,49.29 l3.45,-3.45 l3.45,3.45 l-3.45,3.45 z M550.88,48.97 l3.45,-3.45 l3.45,3.45 l-3.45,3.45 z M551.11,48.65 l3.45,-3.45 l3.45,3.45 l-3.45,3.45 z M551.34,48.34 l3.45,-3.45 l3.45,3.45 l-3.45,3.45 z M551.57,48.02 l3.45,-3.45 l3.45,3.45 l-3.45,3.45 z M551.79,47.71 l3.45,-3.45 l3.45,3.45 l-3.45,3.45 z M552.02,47.40 l3.45,-3.45 l3.45,3.45 l-3.45,3.45 z M552.25,47.09 l3.45,-3.45 l3.45,3.45 l-3.45,3.45 z M552.47,46.78 l3.45,-3.45 l3.45,3.45 l-3.45,3.45 z M552.69,46.47 l3.45,-3.45 l3.45,3.45 l-3.45,3.45 z M552.92,46.17 l3.45,-3.45 l3.45,3.45 l-3.45,3.45 z M553.14,45.87 l3.45,-3.45 l3.45,3.45 l-3.45,3.45 z M553.36,45.57 l3.45,-3.45 l3.45,3.45 l-3.45,3.45 z M553.58,45.27 l3.45,-3.45 l3.45,3.45 l-3.45,3.45 z M553.80,44.97 l3.45,-3.45 l3.45,3.45 l-3.45,3.45 z M554.01,44.68 l3.45,-3.45 l3.45,3.45 l-3.45,3.45 z M554.23,44.39 l3.45,-3.45 l3.45,3.45 l-3.45,3.45 z M554.45,44.09 l3.45,-3.45 l3.45,3.45 l-3.45,3.45 z M554.66,43.80 l3.45,-3.45 l3.45,3.45 l-3.45,3.45 z M554.87,43.51 l3.45,-3.45 l3.45,3.45 l-3.45,3.45 z M555.09,43.22 l3.45,-3.45 l3.45,3.45 l-3.45,3.45 z M555.30,42.93 l3.45,-3.45 l3.45,3.45 l-3.45,3.45 z M555.51,42.64 l3.45,-3.45 l3.45,3.45 l-3.45,3.45 z M555.72,42.35 l3.45,-3.45 l3.45,3.45 l-3.45,3.45 z M555.93,42.06 l3.45,-3.45 l3.45,3.45 l-3.45,3.45 z M556.14,41.76 l3.45,-3.45 l3.45,3.45 l-3.45,3.45 z M556.34,41.47 l3.45,-3.45 l3.45,3.45 l-3.45,3.45 z M556.55,41.18 l3.45,-3.45 l3.45,3.45 l-3.45,3.45 z M556.76,40.88 l3.45,-3.45 l3.45,3.45 l-3.45,3.45 z M556.96,40.58 l3.45,-3.45 l3.45,3.45 l-3.45,3.45 z M557.16,40.29 l3.45,-3.45 l3.45,3.45 l-3.45,3.45 z M557.37,39.98 l3.45,-3.45 l3.45,3.45 l-3.45,3.45 z M557.57,39.68 l3.45,-3.45 l3.45,3.45 l-3.45,3.45 z M557.77,39.38 l3.45,-3.45 l3.45,3.45 l-3.45,3.45 z" fill="none" stroke="#0000ff" stroke-width="0.7"/>
<polyline points="464.99,162.83 466.63,160.70 468.26,158.56 469.89,156.41 471.52,154.25 473.16,152.09 474.79,149.92 476.42,147.75 478.05,145.58 479.68,143.42 481.32,141.26 482.95,139.11 484.58,136.98 486.21,134.85 487.85,132.75 489.48,130.66 491.11,128.58 492.74,126.51 494.38,124.45 496.01,122.40 497.64,120.36 499.27,118.32 500.90,116.29 502.54,114.26 504.17,112.24 505.80,110.22 507.43,108.20 509.07,106.18 510.70,104.17 512.33,102.16 513.96,100.14 515.60,98.13 517.23,96.13 518.86,94.14 520.49,92.15 522.12,90.17 523.76,88.19 525.39,86.20 527.02,84.21 528.65,82.21 530.29,80.20 531.92,78.18 533.55,76.15 535.18,74.12 536.82,72.08 538.45,70.02 540.08,67.96 541.71,65.87 543.34,63.76 544.98,61.62 546.61,59.46 548.24,57.27 549.87,55.06 551.51,52.84 553.14,50.61 554.77,48.36 556.40,46.12 558.04,43.90 559.67,41.65 561.30,39.26" fill="none" stroke="#0000ff" stroke-width="5.4"/>
<polyline points="222.94,351.04 226.36,350.82 229.78,350.59 233.20,350.34 236.62,350.07 240.04,349.78 243.46,349.47 246.88,349.14 250.30,348.79 253.72,348.41 257.14,348.00 260.56,347.56 263.98,347.09 267.40,346.59 270.82,346.06 274.24,345.48 277.66,344.87 281.08,344.21 284.50,343.50 287.92,342.74 291.34,341.93 294.76,341.07 298.18,340.14 301.61,339.15 305.03,338.09 308.45,336.96 311.87,335.76 315.29,334.47 318.71,333.10 322.13,331.63 325.55,330.08 328.97,328.42 332.39,326.67 335.81,324.80 339.23,322.83 342.65,320.74 346.07,318.54 349.49,316.22 352.91,313.79 356.33,311.23 359.75,308.56 363.17,305.78 366.59,302.88 370.01,299.88 373.43,296.78 376.85,293.59 380.27,290.32 383.69,286.97 387.11,283.56 390.53,280.09 393.95,276.57 397.37,273.02 400.80,269.45 404.22,265.85 407.64,262.23 411.06,258.60 414.48,254.97 417.90,251.33 421.32,247.69 424.74,244.04 428.16,240.40 431.58,236.75 435.00,233.11 438.42,229.46 441.84,225.81 445.26,222.17 448.68,218.52 452.10,214.88 455.52,211.23 458.94,207.59 462.36,203.94 465.78,200.29 469.20,196.65 472.62,193.00 476.04,189.36 479.46,185.71 482.88,182.07 486.30,178.42 489.72,174.77 493.14,171.13 496.56,167.48 499.98,163.84 503.41,160.19 506.83,156.55 510.25,152.90 513.67,149.25 517.09,145.61 520.51,141.96 523.93,138.32 527.35,134.67" fill="none" stroke="#0000ff" stroke-width="2.3" stroke-dasharray="2.1 2.06"/>
<polyline points="222.94,350.30 226.36,350.03 229.78,349.75 233.20,349.44 236.62,349.11 240.04,348.75 243.46,348.37 246.88,347.97 250.30,347.53 253.72,347.07 257.14,346.58 260.56,346.05 263.98,345.48 267.40,344.87 270.82,344.22 274.24,343.52 277.66,342.77 281.08,341.98 284.50,341.13 287.92,340.23 291.34,339.27 294.76,338.25 298.18,337.16 301.61,336.00 305.03,334.76 308.45,333.43 311.87,332.01 315.29,330.48 318.71,328.84 322.13,327.03 325.55,325.06 328.97,322.94 332.39,320.71 335.81,318.40 339.23,316.00 342.65,313.49 346.07,310.87 349.49,308.13 352.91,305.26 356.33,302.28 359.75,299.17 363.17,295.95 366.59,292.61 370.01,289.18 373.43,285.65 376.85,282.05 380.27,278.36 383.69,274.59 387.11,270.75 390.53,266.83 393.95,262.87 397.37,258.86 400.80,254.79 404.22,250.66 407.64,246.44 411.06,242.17 414.48,237.92 417.90,233.70 421.32,229.49 424.74,225.30 428.16,221.13 431.58,217.00 435.00,212.91 438.42,208.85 441.84,204.81 445.26,200.76 448.68,196.69 452.10,192.58 455.52,188.46 458.94,184.33 462.36,180.19 465.78,176.06 469.20,171.93 472.62,167.82 476.04,163.70 479.46,159.58 482.88,155.43 486.30,151.25 489.72,147.04 493.14,142.82 496.56,138.60 499.98,134.37 503.41,130.16 506.83,125.96 510.25,121.76 513.67,117.56 517.09,113.35 520.51,109.13 523.93,104.91 527.35,100.72" fill="none" stroke="#ff0000" stroke-width="2.4" stroke-linecap="butt"/>
<text x="288.3" y="98.3" font-size="21.5" text-anchor="end">n=256</text>
<text x="288.3" y="120.0" font-size="21.5" text-anchor="end">n=512</text>
<text x="288.3" y="141.6" font-size="21.5" text-anchor="end">n=1024</text>
<text x="288.3" y="163.2" font-size="21.5" text-anchor="end">1st order</text>
<text x="288.3" y="184.9" font-size="21.5" text-anchor="end">2nd order</text>
<path d="M330.80,87.78 l3.15,5.45 h-6.30 z" fill="none" stroke="#ff4500" stroke-width="0.7"/>
<path d="M330.80,116.67 l3.15,-5.45 h-6.30 z" fill="none" stroke="#ff0000" stroke-width="0.7"/>
<path d="M327.60,134.70 l3.20,-3.20 l3.20,3.20 l-3.20,3.20 z" fill="none" stroke="#0000ff" stroke-width="0.7"/>
<line x1="301.6" x2="360" y1="156.35" y2="156.35" stroke="#0000ff" stroke-width="2.3" stroke-dasharray="2.1 2.06"/>
<line x1="301.6" x2="360" y1="178.0" y2="178.0" stroke="#ff0000" stroke-width="2.3"/>
<path d="M110.15,354.05h5.2 M561.30,354.05h-5.2 M110.15,288.44h5.2 M561.30,288.44h-5.2 M110.15,222.83h5.2 M561.30,222.83h-5.2 M110.15,157.22h5.2 M561.30,157.22h-5.2 M110.15,91.61h5.2 M561.30,91.61h-5.2 M110.15,26.00h5.2 M561.30,26.00h-5.2 M110.15,354.05v-5.2 M110.15,26.00v5.2 M144.10,354.05v-2.8 M144.10,26.00v2.8 M163.96,354.05v-2.8 M163.96,26.00v2.8 M178.05,354.05v-2.8 M178.05,26.00v2.8 M188.99,354.05v-2.8 M188.99,26.00v2.8 M197.92,354.05v-2.8 M197.92,26.00v2.8 M205.47,354.05v-2.8 M205.47,26.00v2.8 M212.01,354.05v-2.8 M212.01,26.00v2.8 M217.78,354.05v-2.8 M217.78,26.00v2.8 M222.94,354.05v-5.2 M222.94,26.00v5.2 M256.89,354.05v-2.8 M256.89,26.00v2.8 M276.75,354.05v-2.8 M276.75,26.00v2.8 M290.84,354.05v-2.8 M290.84,26.00v2.8 M301.77,354.05v-2.8 M301.77,26.00v2.8 M310.70,354.05v-2.8 M310.70,26.00v2.8 M318.25,354.05v-2.8 M318.25,26.00v2.8 M324.79,354.05v-2.8 M324.79,26.00v2.8 M330.56,354.05v-2.8 M330.56,26.00v2.8 M335.73,354.05v-5.2 M335.73,26.00v5.2 M369.68,354.05v-2.8 M369.68,26.00v2.8 M389.54,354.05v-2.8 M389.54,26.00v2.8 M403.63,354.05v-2.8 M403.63,26.00v2.8 M414.56,354.05v-2.8 M414.56,26.00v2.8 M423.49,354.05v-2.8 M423.49,26.00v2.8 M431.04,354.05v-2.8 M431.04,26.00v2.8 M437.58,354.05v-2.8 M437.58,26.00v2.8 M443.35,354.05v-2.8 M443.35,26.00v2.8 M448.51,354.05v-5.2 M448.51,26.00v5.2 M482.46,354.05v-2.8 M482.46,26.00v2.8 M502.33,354.05v-2.8 M502.33,26.00v2.8 M516.42,354.05v-2.8 M516.42,26.00v2.8 M527.35,354.05v-2.8 M527.35,26.00v2.8 M536.28,354.05v-2.8 M536.28,26.00v2.8 M543.83,354.05v-2.8 M543.83,26.00v2.8 M550.37,354.05v-2.8 M550.37,26.00v2.8 M556.14,354.05v-2.8 M556.14,26.00v2.8 M561.30,354.05v-5.2 M561.30,26.00v5.2" fill="none" stroke="#000" stroke-width="1.1"/>
<rect x="110.15" y="26.00" width="451.15" height="328.05" fill="none" stroke="#000" stroke-width="1.15"/>
<text x="97.0" y="361.2" font-size="21.5" text-anchor="end">0</text>
<text x="97.0" y="295.5" font-size="21.5" text-anchor="end">0.2</text>
<text x="97.0" y="229.9" font-size="21.5" text-anchor="end">0.4</text>
<text x="97.0" y="164.3" font-size="21.5" text-anchor="end">0.6</text>
<text x="97.0" y="98.7" font-size="21.5" text-anchor="end">0.8</text>
<text x="97.0" y="33.1" font-size="21.5" text-anchor="end">1</text>
<text x="110.2" y="384.8" font-size="21.5" text-anchor="middle">10<tspan font-size="17.2" dy="-11.2">-2</tspan></text>
<text x="222.9" y="384.8" font-size="21.5" text-anchor="middle">10<tspan font-size="17.2" dy="-11.2">-1</tspan></text>
<text x="335.7" y="384.8" font-size="21.5" text-anchor="middle">10<tspan font-size="17.2" dy="-11.2">0</tspan></text>
<text x="448.5" y="384.8" font-size="21.5" text-anchor="middle">10<tspan font-size="17.2" dy="-11.2">1</tspan></text>
<text x="561.3" y="384.8" font-size="21.5" text-anchor="middle">10<tspan font-size="17.2" dy="-11.2">2</tspan></text>
<text x="335.7" y="414.5" font-size="21.5" text-anchor="middle">n(1-x)</text>
<text transform="translate(28.2,189.2) rotate(-90)" font-size="21.5" text-anchor="middle">log(P<tspan font-size="17.2" dy="8">0</tspan><tspan dy="-8">([0,x],n)/P</tspan><tspan font-size="17.2" dy="8">0</tspan><tspan dy="-8">([0,1],n))</tspan></text>
</svg></body></html>
